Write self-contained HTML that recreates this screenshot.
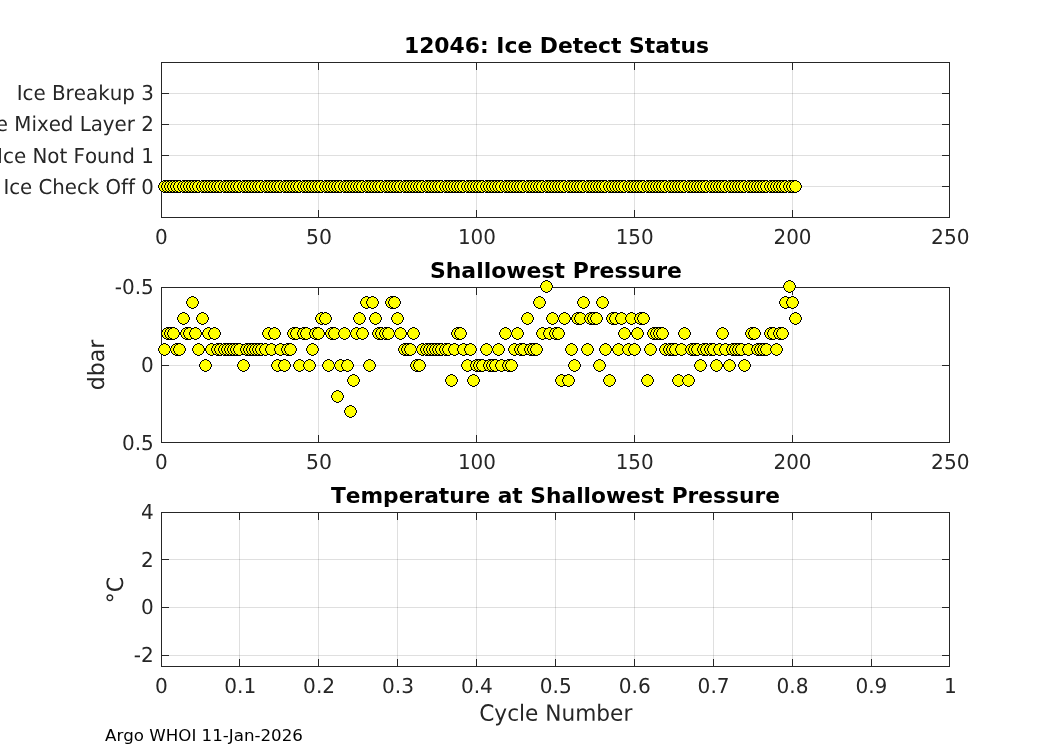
<!DOCTYPE html>
<html><head><meta charset="utf-8"><title>12046: Ice Detect Status</title>
<style>
html,body{margin:0;padding:0;background:#fff;overflow:hidden}
svg{display:block}
text{font-family:"DejaVu Sans","Liberation Sans",sans-serif;font-kerning:none;font-variant-ligatures:none}
</style></head><body>
<svg width="1050" height="750" viewBox="0 0 1050 750">
<rect x="0" y="0" width="1050" height="750" fill="#fff"/>
<g shape-rendering="crispEdges">
<rect x="318" y="62" width="1" height="156" fill="#262626" fill-opacity="0.15"/>
<rect x="476" y="62" width="1" height="156" fill="#262626" fill-opacity="0.15"/>
<rect x="634" y="62" width="1" height="156" fill="#262626" fill-opacity="0.15"/>
<rect x="792" y="62" width="1" height="156" fill="#262626" fill-opacity="0.15"/>
<rect x="161" y="93" width="789" height="1" fill="#262626" fill-opacity="0.15"/>
<rect x="161" y="124" width="789" height="1" fill="#262626" fill-opacity="0.15"/>
<rect x="161" y="155" width="789" height="1" fill="#262626" fill-opacity="0.15"/>
<rect x="161" y="186" width="789" height="1" fill="#262626" fill-opacity="0.15"/>
<rect x="161" y="62" width="789" height="1" fill="#262626"/>
<rect x="161" y="217" width="789" height="1" fill="#262626"/>
<rect x="161" y="62" width="1" height="156" fill="#262626"/>
<rect x="949" y="62" width="1" height="156" fill="#262626"/>
<rect x="161" y="210" width="1" height="8" fill="#262626"/>
<rect x="161" y="62" width="1" height="8" fill="#262626"/>
<rect x="318" y="210" width="1" height="8" fill="#262626"/>
<rect x="318" y="62" width="1" height="8" fill="#262626"/>
<rect x="476" y="210" width="1" height="8" fill="#262626"/>
<rect x="476" y="62" width="1" height="8" fill="#262626"/>
<rect x="634" y="210" width="1" height="8" fill="#262626"/>
<rect x="634" y="62" width="1" height="8" fill="#262626"/>
<rect x="792" y="210" width="1" height="8" fill="#262626"/>
<rect x="792" y="62" width="1" height="8" fill="#262626"/>
<rect x="949" y="210" width="1" height="8" fill="#262626"/>
<rect x="949" y="62" width="1" height="8" fill="#262626"/>
<rect x="161" y="93" width="8" height="1" fill="#262626"/>
<rect x="942" y="93" width="8" height="1" fill="#262626"/>
<rect x="161" y="124" width="8" height="1" fill="#262626"/>
<rect x="942" y="124" width="8" height="1" fill="#262626"/>
<rect x="161" y="155" width="8" height="1" fill="#262626"/>
<rect x="942" y="155" width="8" height="1" fill="#262626"/>
<rect x="161" y="186" width="8" height="1" fill="#262626"/>
<rect x="942" y="186" width="8" height="1" fill="#262626"/>
<rect x="318" y="287" width="1" height="156" fill="#262626" fill-opacity="0.15"/>
<rect x="476" y="287" width="1" height="156" fill="#262626" fill-opacity="0.15"/>
<rect x="634" y="287" width="1" height="156" fill="#262626" fill-opacity="0.15"/>
<rect x="792" y="287" width="1" height="156" fill="#262626" fill-opacity="0.15"/>
<rect x="161" y="365" width="789" height="1" fill="#262626" fill-opacity="0.15"/>
<rect x="161" y="287" width="789" height="1" fill="#262626"/>
<rect x="161" y="442" width="789" height="1" fill="#262626"/>
<rect x="161" y="287" width="1" height="156" fill="#262626"/>
<rect x="949" y="287" width="1" height="156" fill="#262626"/>
<rect x="161" y="435" width="1" height="8" fill="#262626"/>
<rect x="161" y="287" width="1" height="8" fill="#262626"/>
<rect x="318" y="435" width="1" height="8" fill="#262626"/>
<rect x="318" y="287" width="1" height="8" fill="#262626"/>
<rect x="476" y="435" width="1" height="8" fill="#262626"/>
<rect x="476" y="287" width="1" height="8" fill="#262626"/>
<rect x="634" y="435" width="1" height="8" fill="#262626"/>
<rect x="634" y="287" width="1" height="8" fill="#262626"/>
<rect x="792" y="435" width="1" height="8" fill="#262626"/>
<rect x="792" y="287" width="1" height="8" fill="#262626"/>
<rect x="949" y="435" width="1" height="8" fill="#262626"/>
<rect x="949" y="287" width="1" height="8" fill="#262626"/>
<rect x="161" y="287" width="8" height="1" fill="#262626"/>
<rect x="942" y="287" width="8" height="1" fill="#262626"/>
<rect x="161" y="365" width="8" height="1" fill="#262626"/>
<rect x="942" y="365" width="8" height="1" fill="#262626"/>
<rect x="161" y="442" width="8" height="1" fill="#262626"/>
<rect x="942" y="442" width="8" height="1" fill="#262626"/>
<rect x="239" y="512" width="1" height="155" fill="#262626" fill-opacity="0.15"/>
<rect x="318" y="512" width="1" height="155" fill="#262626" fill-opacity="0.15"/>
<rect x="397" y="512" width="1" height="155" fill="#262626" fill-opacity="0.15"/>
<rect x="476" y="512" width="1" height="155" fill="#262626" fill-opacity="0.15"/>
<rect x="555" y="512" width="1" height="155" fill="#262626" fill-opacity="0.15"/>
<rect x="634" y="512" width="1" height="155" fill="#262626" fill-opacity="0.15"/>
<rect x="713" y="512" width="1" height="155" fill="#262626" fill-opacity="0.15"/>
<rect x="792" y="512" width="1" height="155" fill="#262626" fill-opacity="0.15"/>
<rect x="871" y="512" width="1" height="155" fill="#262626" fill-opacity="0.15"/>
<rect x="161" y="559" width="789" height="1" fill="#262626" fill-opacity="0.15"/>
<rect x="161" y="607" width="789" height="1" fill="#262626" fill-opacity="0.15"/>
<rect x="161" y="655" width="789" height="1" fill="#262626" fill-opacity="0.15"/>
<rect x="161" y="512" width="789" height="1" fill="#262626"/>
<rect x="161" y="666" width="789" height="1" fill="#262626"/>
<rect x="161" y="512" width="1" height="155" fill="#262626"/>
<rect x="949" y="512" width="1" height="155" fill="#262626"/>
<rect x="161" y="659" width="1" height="8" fill="#262626"/>
<rect x="161" y="512" width="1" height="8" fill="#262626"/>
<rect x="239" y="659" width="1" height="8" fill="#262626"/>
<rect x="239" y="512" width="1" height="8" fill="#262626"/>
<rect x="318" y="659" width="1" height="8" fill="#262626"/>
<rect x="318" y="512" width="1" height="8" fill="#262626"/>
<rect x="397" y="659" width="1" height="8" fill="#262626"/>
<rect x="397" y="512" width="1" height="8" fill="#262626"/>
<rect x="476" y="659" width="1" height="8" fill="#262626"/>
<rect x="476" y="512" width="1" height="8" fill="#262626"/>
<rect x="555" y="659" width="1" height="8" fill="#262626"/>
<rect x="555" y="512" width="1" height="8" fill="#262626"/>
<rect x="634" y="659" width="1" height="8" fill="#262626"/>
<rect x="634" y="512" width="1" height="8" fill="#262626"/>
<rect x="713" y="659" width="1" height="8" fill="#262626"/>
<rect x="713" y="512" width="1" height="8" fill="#262626"/>
<rect x="792" y="659" width="1" height="8" fill="#262626"/>
<rect x="792" y="512" width="1" height="8" fill="#262626"/>
<rect x="871" y="659" width="1" height="8" fill="#262626"/>
<rect x="871" y="512" width="1" height="8" fill="#262626"/>
<rect x="949" y="659" width="1" height="8" fill="#262626"/>
<rect x="949" y="512" width="1" height="8" fill="#262626"/>
<rect x="161" y="512" width="8" height="1" fill="#262626"/>
<rect x="942" y="512" width="8" height="1" fill="#262626"/>
<rect x="161" y="559" width="8" height="1" fill="#262626"/>
<rect x="942" y="559" width="8" height="1" fill="#262626"/>
<rect x="161" y="607" width="8" height="1" fill="#262626"/>
<rect x="942" y="607" width="8" height="1" fill="#262626"/>
<rect x="161" y="655" width="8" height="1" fill="#262626"/>
<rect x="942" y="655" width="8" height="1" fill="#262626"/>
</g>
<g shape-rendering="crispEdges">
<g transform="translate(158,180)"><path d="M5,0H8V1H10V2H11V3H12V5H13V8H12V10H11V11H10V12H8V13H5V12H3V11H2V10H1V8H0V5H1V3H2V2H3V1H5Z" fill="#000"/><path d="M5,1H8V2H10V3H11V5H12V8H11V10H10V11H8V12H5V11H3V10H2V8H1V5H2V3H3V2H5Z" fill="#ff0"/></g>
<g transform="translate(161,180)"><path d="M5,0H8V1H10V2H11V3H12V5H13V8H12V10H11V11H10V12H8V13H5V12H3V11H2V10H1V8H0V5H1V3H2V2H3V1H5Z" fill="#000"/><path d="M5,1H8V2H10V3H11V5H12V8H11V10H10V11H8V12H5V11H3V10H2V8H1V5H2V3H3V2H5Z" fill="#ff0"/></g>
<g transform="translate(164,180)"><path d="M5,0H8V1H10V2H11V3H12V5H13V8H12V10H11V11H10V12H8V13H5V12H3V11H2V10H1V8H0V5H1V3H2V2H3V1H5Z" fill="#000"/><path d="M5,1H8V2H10V3H11V5H12V8H11V10H10V11H8V12H5V11H3V10H2V8H1V5H2V3H3V2H5Z" fill="#ff0"/></g>
<g transform="translate(167,180)"><path d="M5,0H8V1H10V2H11V3H12V5H13V8H12V10H11V11H10V12H8V13H5V12H3V11H2V10H1V8H0V5H1V3H2V2H3V1H5Z" fill="#000"/><path d="M5,1H8V2H10V3H11V5H12V8H11V10H10V11H8V12H5V11H3V10H2V8H1V5H2V3H3V2H5Z" fill="#ff0"/></g>
<g transform="translate(170,180)"><path d="M5,0H8V1H10V2H11V3H12V5H13V8H12V10H11V11H10V12H8V13H5V12H3V11H2V10H1V8H0V5H1V3H2V2H3V1H5Z" fill="#000"/><path d="M5,1H8V2H10V3H11V5H12V8H11V10H10V11H8V12H5V11H3V10H2V8H1V5H2V3H3V2H5Z" fill="#ff0"/></g>
<g transform="translate(173,180)"><path d="M5,0H8V1H10V2H11V3H12V5H13V8H12V10H11V11H10V12H8V13H5V12H3V11H2V10H1V8H0V5H1V3H2V2H3V1H5Z" fill="#000"/><path d="M5,1H8V2H10V3H11V5H12V8H11V10H10V11H8V12H5V11H3V10H2V8H1V5H2V3H3V2H5Z" fill="#ff0"/></g>
<g transform="translate(177,180)"><path d="M5,0H8V1H10V2H11V3H12V5H13V8H12V10H11V11H10V12H8V13H5V12H3V11H2V10H1V8H0V5H1V3H2V2H3V1H5Z" fill="#000"/><path d="M5,1H8V2H10V3H11V5H12V8H11V10H10V11H8V12H5V11H3V10H2V8H1V5H2V3H3V2H5Z" fill="#ff0"/></g>
<g transform="translate(180,180)"><path d="M5,0H8V1H10V2H11V3H12V5H13V8H12V10H11V11H10V12H8V13H5V12H3V11H2V10H1V8H0V5H1V3H2V2H3V1H5Z" fill="#000"/><path d="M5,1H8V2H10V3H11V5H12V8H11V10H10V11H8V12H5V11H3V10H2V8H1V5H2V3H3V2H5Z" fill="#ff0"/></g>
<g transform="translate(183,180)"><path d="M5,0H8V1H10V2H11V3H12V5H13V8H12V10H11V11H10V12H8V13H5V12H3V11H2V10H1V8H0V5H1V3H2V2H3V1H5Z" fill="#000"/><path d="M5,1H8V2H10V3H11V5H12V8H11V10H10V11H8V12H5V11H3V10H2V8H1V5H2V3H3V2H5Z" fill="#ff0"/></g>
<g transform="translate(186,180)"><path d="M5,0H8V1H10V2H11V3H12V5H13V8H12V10H11V11H10V12H8V13H5V12H3V11H2V10H1V8H0V5H1V3H2V2H3V1H5Z" fill="#000"/><path d="M5,1H8V2H10V3H11V5H12V8H11V10H10V11H8V12H5V11H3V10H2V8H1V5H2V3H3V2H5Z" fill="#ff0"/></g>
<g transform="translate(189,180)"><path d="M5,0H8V1H10V2H11V3H12V5H13V8H12V10H11V11H10V12H8V13H5V12H3V11H2V10H1V8H0V5H1V3H2V2H3V1H5Z" fill="#000"/><path d="M5,1H8V2H10V3H11V5H12V8H11V10H10V11H8V12H5V11H3V10H2V8H1V5H2V3H3V2H5Z" fill="#ff0"/></g>
<g transform="translate(192,180)"><path d="M5,0H8V1H10V2H11V3H12V5H13V8H12V10H11V11H10V12H8V13H5V12H3V11H2V10H1V8H0V5H1V3H2V2H3V1H5Z" fill="#000"/><path d="M5,1H8V2H10V3H11V5H12V8H11V10H10V11H8V12H5V11H3V10H2V8H1V5H2V3H3V2H5Z" fill="#ff0"/></g>
<g transform="translate(196,180)"><path d="M5,0H8V1H10V2H11V3H12V5H13V8H12V10H11V11H10V12H8V13H5V12H3V11H2V10H1V8H0V5H1V3H2V2H3V1H5Z" fill="#000"/><path d="M5,1H8V2H10V3H11V5H12V8H11V10H10V11H8V12H5V11H3V10H2V8H1V5H2V3H3V2H5Z" fill="#ff0"/></g>
<g transform="translate(199,180)"><path d="M5,0H8V1H10V2H11V3H12V5H13V8H12V10H11V11H10V12H8V13H5V12H3V11H2V10H1V8H0V5H1V3H2V2H3V1H5Z" fill="#000"/><path d="M5,1H8V2H10V3H11V5H12V8H11V10H10V11H8V12H5V11H3V10H2V8H1V5H2V3H3V2H5Z" fill="#ff0"/></g>
<g transform="translate(202,180)"><path d="M5,0H8V1H10V2H11V3H12V5H13V8H12V10H11V11H10V12H8V13H5V12H3V11H2V10H1V8H0V5H1V3H2V2H3V1H5Z" fill="#000"/><path d="M5,1H8V2H10V3H11V5H12V8H11V10H10V11H8V12H5V11H3V10H2V8H1V5H2V3H3V2H5Z" fill="#ff0"/></g>
<g transform="translate(205,180)"><path d="M5,0H8V1H10V2H11V3H12V5H13V8H12V10H11V11H10V12H8V13H5V12H3V11H2V10H1V8H0V5H1V3H2V2H3V1H5Z" fill="#000"/><path d="M5,1H8V2H10V3H11V5H12V8H11V10H10V11H8V12H5V11H3V10H2V8H1V5H2V3H3V2H5Z" fill="#ff0"/></g>
<g transform="translate(208,180)"><path d="M5,0H8V1H10V2H11V3H12V5H13V8H12V10H11V11H10V12H8V13H5V12H3V11H2V10H1V8H0V5H1V3H2V2H3V1H5Z" fill="#000"/><path d="M5,1H8V2H10V3H11V5H12V8H11V10H10V11H8V12H5V11H3V10H2V8H1V5H2V3H3V2H5Z" fill="#ff0"/></g>
<g transform="translate(211,180)"><path d="M5,0H8V1H10V2H11V3H12V5H13V8H12V10H11V11H10V12H8V13H5V12H3V11H2V10H1V8H0V5H1V3H2V2H3V1H5Z" fill="#000"/><path d="M5,1H8V2H10V3H11V5H12V8H11V10H10V11H8V12H5V11H3V10H2V8H1V5H2V3H3V2H5Z" fill="#ff0"/></g>
<g transform="translate(214,180)"><path d="M5,0H8V1H10V2H11V3H12V5H13V8H12V10H11V11H10V12H8V13H5V12H3V11H2V10H1V8H0V5H1V3H2V2H3V1H5Z" fill="#000"/><path d="M5,1H8V2H10V3H11V5H12V8H11V10H10V11H8V12H5V11H3V10H2V8H1V5H2V3H3V2H5Z" fill="#ff0"/></g>
<g transform="translate(218,180)"><path d="M5,0H8V1H10V2H11V3H12V5H13V8H12V10H11V11H10V12H8V13H5V12H3V11H2V10H1V8H0V5H1V3H2V2H3V1H5Z" fill="#000"/><path d="M5,1H8V2H10V3H11V5H12V8H11V10H10V11H8V12H5V11H3V10H2V8H1V5H2V3H3V2H5Z" fill="#ff0"/></g>
<g transform="translate(221,180)"><path d="M5,0H8V1H10V2H11V3H12V5H13V8H12V10H11V11H10V12H8V13H5V12H3V11H2V10H1V8H0V5H1V3H2V2H3V1H5Z" fill="#000"/><path d="M5,1H8V2H10V3H11V5H12V8H11V10H10V11H8V12H5V11H3V10H2V8H1V5H2V3H3V2H5Z" fill="#ff0"/></g>
<g transform="translate(224,180)"><path d="M5,0H8V1H10V2H11V3H12V5H13V8H12V10H11V11H10V12H8V13H5V12H3V11H2V10H1V8H0V5H1V3H2V2H3V1H5Z" fill="#000"/><path d="M5,1H8V2H10V3H11V5H12V8H11V10H10V11H8V12H5V11H3V10H2V8H1V5H2V3H3V2H5Z" fill="#ff0"/></g>
<g transform="translate(227,180)"><path d="M5,0H8V1H10V2H11V3H12V5H13V8H12V10H11V11H10V12H8V13H5V12H3V11H2V10H1V8H0V5H1V3H2V2H3V1H5Z" fill="#000"/><path d="M5,1H8V2H10V3H11V5H12V8H11V10H10V11H8V12H5V11H3V10H2V8H1V5H2V3H3V2H5Z" fill="#ff0"/></g>
<g transform="translate(230,180)"><path d="M5,0H8V1H10V2H11V3H12V5H13V8H12V10H11V11H10V12H8V13H5V12H3V11H2V10H1V8H0V5H1V3H2V2H3V1H5Z" fill="#000"/><path d="M5,1H8V2H10V3H11V5H12V8H11V10H10V11H8V12H5V11H3V10H2V8H1V5H2V3H3V2H5Z" fill="#ff0"/></g>
<g transform="translate(233,180)"><path d="M5,0H8V1H10V2H11V3H12V5H13V8H12V10H11V11H10V12H8V13H5V12H3V11H2V10H1V8H0V5H1V3H2V2H3V1H5Z" fill="#000"/><path d="M5,1H8V2H10V3H11V5H12V8H11V10H10V11H8V12H5V11H3V10H2V8H1V5H2V3H3V2H5Z" fill="#ff0"/></g>
<g transform="translate(237,180)"><path d="M5,0H8V1H10V2H11V3H12V5H13V8H12V10H11V11H10V12H8V13H5V12H3V11H2V10H1V8H0V5H1V3H2V2H3V1H5Z" fill="#000"/><path d="M5,1H8V2H10V3H11V5H12V8H11V10H10V11H8V12H5V11H3V10H2V8H1V5H2V3H3V2H5Z" fill="#ff0"/></g>
<g transform="translate(240,180)"><path d="M5,0H8V1H10V2H11V3H12V5H13V8H12V10H11V11H10V12H8V13H5V12H3V11H2V10H1V8H0V5H1V3H2V2H3V1H5Z" fill="#000"/><path d="M5,1H8V2H10V3H11V5H12V8H11V10H10V11H8V12H5V11H3V10H2V8H1V5H2V3H3V2H5Z" fill="#ff0"/></g>
<g transform="translate(243,180)"><path d="M5,0H8V1H10V2H11V3H12V5H13V8H12V10H11V11H10V12H8V13H5V12H3V11H2V10H1V8H0V5H1V3H2V2H3V1H5Z" fill="#000"/><path d="M5,1H8V2H10V3H11V5H12V8H11V10H10V11H8V12H5V11H3V10H2V8H1V5H2V3H3V2H5Z" fill="#ff0"/></g>
<g transform="translate(246,180)"><path d="M5,0H8V1H10V2H11V3H12V5H13V8H12V10H11V11H10V12H8V13H5V12H3V11H2V10H1V8H0V5H1V3H2V2H3V1H5Z" fill="#000"/><path d="M5,1H8V2H10V3H11V5H12V8H11V10H10V11H8V12H5V11H3V10H2V8H1V5H2V3H3V2H5Z" fill="#ff0"/></g>
<g transform="translate(249,180)"><path d="M5,0H8V1H10V2H11V3H12V5H13V8H12V10H11V11H10V12H8V13H5V12H3V11H2V10H1V8H0V5H1V3H2V2H3V1H5Z" fill="#000"/><path d="M5,1H8V2H10V3H11V5H12V8H11V10H10V11H8V12H5V11H3V10H2V8H1V5H2V3H3V2H5Z" fill="#ff0"/></g>
<g transform="translate(252,180)"><path d="M5,0H8V1H10V2H11V3H12V5H13V8H12V10H11V11H10V12H8V13H5V12H3V11H2V10H1V8H0V5H1V3H2V2H3V1H5Z" fill="#000"/><path d="M5,1H8V2H10V3H11V5H12V8H11V10H10V11H8V12H5V11H3V10H2V8H1V5H2V3H3V2H5Z" fill="#ff0"/></g>
<g transform="translate(255,180)"><path d="M5,0H8V1H10V2H11V3H12V5H13V8H12V10H11V11H10V12H8V13H5V12H3V11H2V10H1V8H0V5H1V3H2V2H3V1H5Z" fill="#000"/><path d="M5,1H8V2H10V3H11V5H12V8H11V10H10V11H8V12H5V11H3V10H2V8H1V5H2V3H3V2H5Z" fill="#ff0"/></g>
<g transform="translate(259,180)"><path d="M5,0H8V1H10V2H11V3H12V5H13V8H12V10H11V11H10V12H8V13H5V12H3V11H2V10H1V8H0V5H1V3H2V2H3V1H5Z" fill="#000"/><path d="M5,1H8V2H10V3H11V5H12V8H11V10H10V11H8V12H5V11H3V10H2V8H1V5H2V3H3V2H5Z" fill="#ff0"/></g>
<g transform="translate(262,180)"><path d="M5,0H8V1H10V2H11V3H12V5H13V8H12V10H11V11H10V12H8V13H5V12H3V11H2V10H1V8H0V5H1V3H2V2H3V1H5Z" fill="#000"/><path d="M5,1H8V2H10V3H11V5H12V8H11V10H10V11H8V12H5V11H3V10H2V8H1V5H2V3H3V2H5Z" fill="#ff0"/></g>
<g transform="translate(265,180)"><path d="M5,0H8V1H10V2H11V3H12V5H13V8H12V10H11V11H10V12H8V13H5V12H3V11H2V10H1V8H0V5H1V3H2V2H3V1H5Z" fill="#000"/><path d="M5,1H8V2H10V3H11V5H12V8H11V10H10V11H8V12H5V11H3V10H2V8H1V5H2V3H3V2H5Z" fill="#ff0"/></g>
<g transform="translate(268,180)"><path d="M5,0H8V1H10V2H11V3H12V5H13V8H12V10H11V11H10V12H8V13H5V12H3V11H2V10H1V8H0V5H1V3H2V2H3V1H5Z" fill="#000"/><path d="M5,1H8V2H10V3H11V5H12V8H11V10H10V11H8V12H5V11H3V10H2V8H1V5H2V3H3V2H5Z" fill="#ff0"/></g>
<g transform="translate(271,180)"><path d="M5,0H8V1H10V2H11V3H12V5H13V8H12V10H11V11H10V12H8V13H5V12H3V11H2V10H1V8H0V5H1V3H2V2H3V1H5Z" fill="#000"/><path d="M5,1H8V2H10V3H11V5H12V8H11V10H10V11H8V12H5V11H3V10H2V8H1V5H2V3H3V2H5Z" fill="#ff0"/></g>
<g transform="translate(274,180)"><path d="M5,0H8V1H10V2H11V3H12V5H13V8H12V10H11V11H10V12H8V13H5V12H3V11H2V10H1V8H0V5H1V3H2V2H3V1H5Z" fill="#000"/><path d="M5,1H8V2H10V3H11V5H12V8H11V10H10V11H8V12H5V11H3V10H2V8H1V5H2V3H3V2H5Z" fill="#ff0"/></g>
<g transform="translate(278,180)"><path d="M5,0H8V1H10V2H11V3H12V5H13V8H12V10H11V11H10V12H8V13H5V12H3V11H2V10H1V8H0V5H1V3H2V2H3V1H5Z" fill="#000"/><path d="M5,1H8V2H10V3H11V5H12V8H11V10H10V11H8V12H5V11H3V10H2V8H1V5H2V3H3V2H5Z" fill="#ff0"/></g>
<g transform="translate(281,180)"><path d="M5,0H8V1H10V2H11V3H12V5H13V8H12V10H11V11H10V12H8V13H5V12H3V11H2V10H1V8H0V5H1V3H2V2H3V1H5Z" fill="#000"/><path d="M5,1H8V2H10V3H11V5H12V8H11V10H10V11H8V12H5V11H3V10H2V8H1V5H2V3H3V2H5Z" fill="#ff0"/></g>
<g transform="translate(284,180)"><path d="M5,0H8V1H10V2H11V3H12V5H13V8H12V10H11V11H10V12H8V13H5V12H3V11H2V10H1V8H0V5H1V3H2V2H3V1H5Z" fill="#000"/><path d="M5,1H8V2H10V3H11V5H12V8H11V10H10V11H8V12H5V11H3V10H2V8H1V5H2V3H3V2H5Z" fill="#ff0"/></g>
<g transform="translate(287,180)"><path d="M5,0H8V1H10V2H11V3H12V5H13V8H12V10H11V11H10V12H8V13H5V12H3V11H2V10H1V8H0V5H1V3H2V2H3V1H5Z" fill="#000"/><path d="M5,1H8V2H10V3H11V5H12V8H11V10H10V11H8V12H5V11H3V10H2V8H1V5H2V3H3V2H5Z" fill="#ff0"/></g>
<g transform="translate(290,180)"><path d="M5,0H8V1H10V2H11V3H12V5H13V8H12V10H11V11H10V12H8V13H5V12H3V11H2V10H1V8H0V5H1V3H2V2H3V1H5Z" fill="#000"/><path d="M5,1H8V2H10V3H11V5H12V8H11V10H10V11H8V12H5V11H3V10H2V8H1V5H2V3H3V2H5Z" fill="#ff0"/></g>
<g transform="translate(293,180)"><path d="M5,0H8V1H10V2H11V3H12V5H13V8H12V10H11V11H10V12H8V13H5V12H3V11H2V10H1V8H0V5H1V3H2V2H3V1H5Z" fill="#000"/><path d="M5,1H8V2H10V3H11V5H12V8H11V10H10V11H8V12H5V11H3V10H2V8H1V5H2V3H3V2H5Z" fill="#ff0"/></g>
<g transform="translate(297,180)"><path d="M5,0H8V1H10V2H11V3H12V5H13V8H12V10H11V11H10V12H8V13H5V12H3V11H2V10H1V8H0V5H1V3H2V2H3V1H5Z" fill="#000"/><path d="M5,1H8V2H10V3H11V5H12V8H11V10H10V11H8V12H5V11H3V10H2V8H1V5H2V3H3V2H5Z" fill="#ff0"/></g>
<g transform="translate(300,180)"><path d="M5,0H8V1H10V2H11V3H12V5H13V8H12V10H11V11H10V12H8V13H5V12H3V11H2V10H1V8H0V5H1V3H2V2H3V1H5Z" fill="#000"/><path d="M5,1H8V2H10V3H11V5H12V8H11V10H10V11H8V12H5V11H3V10H2V8H1V5H2V3H3V2H5Z" fill="#ff0"/></g>
<g transform="translate(303,180)"><path d="M5,0H8V1H10V2H11V3H12V5H13V8H12V10H11V11H10V12H8V13H5V12H3V11H2V10H1V8H0V5H1V3H2V2H3V1H5Z" fill="#000"/><path d="M5,1H8V2H10V3H11V5H12V8H11V10H10V11H8V12H5V11H3V10H2V8H1V5H2V3H3V2H5Z" fill="#ff0"/></g>
<g transform="translate(306,180)"><path d="M5,0H8V1H10V2H11V3H12V5H13V8H12V10H11V11H10V12H8V13H5V12H3V11H2V10H1V8H0V5H1V3H2V2H3V1H5Z" fill="#000"/><path d="M5,1H8V2H10V3H11V5H12V8H11V10H10V11H8V12H5V11H3V10H2V8H1V5H2V3H3V2H5Z" fill="#ff0"/></g>
<g transform="translate(309,180)"><path d="M5,0H8V1H10V2H11V3H12V5H13V8H12V10H11V11H10V12H8V13H5V12H3V11H2V10H1V8H0V5H1V3H2V2H3V1H5Z" fill="#000"/><path d="M5,1H8V2H10V3H11V5H12V8H11V10H10V11H8V12H5V11H3V10H2V8H1V5H2V3H3V2H5Z" fill="#ff0"/></g>
<g transform="translate(312,180)"><path d="M5,0H8V1H10V2H11V3H12V5H13V8H12V10H11V11H10V12H8V13H5V12H3V11H2V10H1V8H0V5H1V3H2V2H3V1H5Z" fill="#000"/><path d="M5,1H8V2H10V3H11V5H12V8H11V10H10V11H8V12H5V11H3V10H2V8H1V5H2V3H3V2H5Z" fill="#ff0"/></g>
<g transform="translate(315,180)"><path d="M5,0H8V1H10V2H11V3H12V5H13V8H12V10H11V11H10V12H8V13H5V12H3V11H2V10H1V8H0V5H1V3H2V2H3V1H5Z" fill="#000"/><path d="M5,1H8V2H10V3H11V5H12V8H11V10H10V11H8V12H5V11H3V10H2V8H1V5H2V3H3V2H5Z" fill="#ff0"/></g>
<g transform="translate(319,180)"><path d="M5,0H8V1H10V2H11V3H12V5H13V8H12V10H11V11H10V12H8V13H5V12H3V11H2V10H1V8H0V5H1V3H2V2H3V1H5Z" fill="#000"/><path d="M5,1H8V2H10V3H11V5H12V8H11V10H10V11H8V12H5V11H3V10H2V8H1V5H2V3H3V2H5Z" fill="#ff0"/></g>
<g transform="translate(322,180)"><path d="M5,0H8V1H10V2H11V3H12V5H13V8H12V10H11V11H10V12H8V13H5V12H3V11H2V10H1V8H0V5H1V3H2V2H3V1H5Z" fill="#000"/><path d="M5,1H8V2H10V3H11V5H12V8H11V10H10V11H8V12H5V11H3V10H2V8H1V5H2V3H3V2H5Z" fill="#ff0"/></g>
<g transform="translate(325,180)"><path d="M5,0H8V1H10V2H11V3H12V5H13V8H12V10H11V11H10V12H8V13H5V12H3V11H2V10H1V8H0V5H1V3H2V2H3V1H5Z" fill="#000"/><path d="M5,1H8V2H10V3H11V5H12V8H11V10H10V11H8V12H5V11H3V10H2V8H1V5H2V3H3V2H5Z" fill="#ff0"/></g>
<g transform="translate(328,180)"><path d="M5,0H8V1H10V2H11V3H12V5H13V8H12V10H11V11H10V12H8V13H5V12H3V11H2V10H1V8H0V5H1V3H2V2H3V1H5Z" fill="#000"/><path d="M5,1H8V2H10V3H11V5H12V8H11V10H10V11H8V12H5V11H3V10H2V8H1V5H2V3H3V2H5Z" fill="#ff0"/></g>
<g transform="translate(331,180)"><path d="M5,0H8V1H10V2H11V3H12V5H13V8H12V10H11V11H10V12H8V13H5V12H3V11H2V10H1V8H0V5H1V3H2V2H3V1H5Z" fill="#000"/><path d="M5,1H8V2H10V3H11V5H12V8H11V10H10V11H8V12H5V11H3V10H2V8H1V5H2V3H3V2H5Z" fill="#ff0"/></g>
<g transform="translate(334,180)"><path d="M5,0H8V1H10V2H11V3H12V5H13V8H12V10H11V11H10V12H8V13H5V12H3V11H2V10H1V8H0V5H1V3H2V2H3V1H5Z" fill="#000"/><path d="M5,1H8V2H10V3H11V5H12V8H11V10H10V11H8V12H5V11H3V10H2V8H1V5H2V3H3V2H5Z" fill="#ff0"/></g>
<g transform="translate(338,180)"><path d="M5,0H8V1H10V2H11V3H12V5H13V8H12V10H11V11H10V12H8V13H5V12H3V11H2V10H1V8H0V5H1V3H2V2H3V1H5Z" fill="#000"/><path d="M5,1H8V2H10V3H11V5H12V8H11V10H10V11H8V12H5V11H3V10H2V8H1V5H2V3H3V2H5Z" fill="#ff0"/></g>
<g transform="translate(341,180)"><path d="M5,0H8V1H10V2H11V3H12V5H13V8H12V10H11V11H10V12H8V13H5V12H3V11H2V10H1V8H0V5H1V3H2V2H3V1H5Z" fill="#000"/><path d="M5,1H8V2H10V3H11V5H12V8H11V10H10V11H8V12H5V11H3V10H2V8H1V5H2V3H3V2H5Z" fill="#ff0"/></g>
<g transform="translate(344,180)"><path d="M5,0H8V1H10V2H11V3H12V5H13V8H12V10H11V11H10V12H8V13H5V12H3V11H2V10H1V8H0V5H1V3H2V2H3V1H5Z" fill="#000"/><path d="M5,1H8V2H10V3H11V5H12V8H11V10H10V11H8V12H5V11H3V10H2V8H1V5H2V3H3V2H5Z" fill="#ff0"/></g>
<g transform="translate(347,180)"><path d="M5,0H8V1H10V2H11V3H12V5H13V8H12V10H11V11H10V12H8V13H5V12H3V11H2V10H1V8H0V5H1V3H2V2H3V1H5Z" fill="#000"/><path d="M5,1H8V2H10V3H11V5H12V8H11V10H10V11H8V12H5V11H3V10H2V8H1V5H2V3H3V2H5Z" fill="#ff0"/></g>
<g transform="translate(350,180)"><path d="M5,0H8V1H10V2H11V3H12V5H13V8H12V10H11V11H10V12H8V13H5V12H3V11H2V10H1V8H0V5H1V3H2V2H3V1H5Z" fill="#000"/><path d="M5,1H8V2H10V3H11V5H12V8H11V10H10V11H8V12H5V11H3V10H2V8H1V5H2V3H3V2H5Z" fill="#ff0"/></g>
<g transform="translate(353,180)"><path d="M5,0H8V1H10V2H11V3H12V5H13V8H12V10H11V11H10V12H8V13H5V12H3V11H2V10H1V8H0V5H1V3H2V2H3V1H5Z" fill="#000"/><path d="M5,1H8V2H10V3H11V5H12V8H11V10H10V11H8V12H5V11H3V10H2V8H1V5H2V3H3V2H5Z" fill="#ff0"/></g>
<g transform="translate(356,180)"><path d="M5,0H8V1H10V2H11V3H12V5H13V8H12V10H11V11H10V12H8V13H5V12H3V11H2V10H1V8H0V5H1V3H2V2H3V1H5Z" fill="#000"/><path d="M5,1H8V2H10V3H11V5H12V8H11V10H10V11H8V12H5V11H3V10H2V8H1V5H2V3H3V2H5Z" fill="#ff0"/></g>
<g transform="translate(360,180)"><path d="M5,0H8V1H10V2H11V3H12V5H13V8H12V10H11V11H10V12H8V13H5V12H3V11H2V10H1V8H0V5H1V3H2V2H3V1H5Z" fill="#000"/><path d="M5,1H8V2H10V3H11V5H12V8H11V10H10V11H8V12H5V11H3V10H2V8H1V5H2V3H3V2H5Z" fill="#ff0"/></g>
<g transform="translate(363,180)"><path d="M5,0H8V1H10V2H11V3H12V5H13V8H12V10H11V11H10V12H8V13H5V12H3V11H2V10H1V8H0V5H1V3H2V2H3V1H5Z" fill="#000"/><path d="M5,1H8V2H10V3H11V5H12V8H11V10H10V11H8V12H5V11H3V10H2V8H1V5H2V3H3V2H5Z" fill="#ff0"/></g>
<g transform="translate(366,180)"><path d="M5,0H8V1H10V2H11V3H12V5H13V8H12V10H11V11H10V12H8V13H5V12H3V11H2V10H1V8H0V5H1V3H2V2H3V1H5Z" fill="#000"/><path d="M5,1H8V2H10V3H11V5H12V8H11V10H10V11H8V12H5V11H3V10H2V8H1V5H2V3H3V2H5Z" fill="#ff0"/></g>
<g transform="translate(369,180)"><path d="M5,0H8V1H10V2H11V3H12V5H13V8H12V10H11V11H10V12H8V13H5V12H3V11H2V10H1V8H0V5H1V3H2V2H3V1H5Z" fill="#000"/><path d="M5,1H8V2H10V3H11V5H12V8H11V10H10V11H8V12H5V11H3V10H2V8H1V5H2V3H3V2H5Z" fill="#ff0"/></g>
<g transform="translate(372,180)"><path d="M5,0H8V1H10V2H11V3H12V5H13V8H12V10H11V11H10V12H8V13H5V12H3V11H2V10H1V8H0V5H1V3H2V2H3V1H5Z" fill="#000"/><path d="M5,1H8V2H10V3H11V5H12V8H11V10H10V11H8V12H5V11H3V10H2V8H1V5H2V3H3V2H5Z" fill="#ff0"/></g>
<g transform="translate(375,180)"><path d="M5,0H8V1H10V2H11V3H12V5H13V8H12V10H11V11H10V12H8V13H5V12H3V11H2V10H1V8H0V5H1V3H2V2H3V1H5Z" fill="#000"/><path d="M5,1H8V2H10V3H11V5H12V8H11V10H10V11H8V12H5V11H3V10H2V8H1V5H2V3H3V2H5Z" fill="#ff0"/></g>
<g transform="translate(379,180)"><path d="M5,0H8V1H10V2H11V3H12V5H13V8H12V10H11V11H10V12H8V13H5V12H3V11H2V10H1V8H0V5H1V3H2V2H3V1H5Z" fill="#000"/><path d="M5,1H8V2H10V3H11V5H12V8H11V10H10V11H8V12H5V11H3V10H2V8H1V5H2V3H3V2H5Z" fill="#ff0"/></g>
<g transform="translate(382,180)"><path d="M5,0H8V1H10V2H11V3H12V5H13V8H12V10H11V11H10V12H8V13H5V12H3V11H2V10H1V8H0V5H1V3H2V2H3V1H5Z" fill="#000"/><path d="M5,1H8V2H10V3H11V5H12V8H11V10H10V11H8V12H5V11H3V10H2V8H1V5H2V3H3V2H5Z" fill="#ff0"/></g>
<g transform="translate(385,180)"><path d="M5,0H8V1H10V2H11V3H12V5H13V8H12V10H11V11H10V12H8V13H5V12H3V11H2V10H1V8H0V5H1V3H2V2H3V1H5Z" fill="#000"/><path d="M5,1H8V2H10V3H11V5H12V8H11V10H10V11H8V12H5V11H3V10H2V8H1V5H2V3H3V2H5Z" fill="#ff0"/></g>
<g transform="translate(388,180)"><path d="M5,0H8V1H10V2H11V3H12V5H13V8H12V10H11V11H10V12H8V13H5V12H3V11H2V10H1V8H0V5H1V3H2V2H3V1H5Z" fill="#000"/><path d="M5,1H8V2H10V3H11V5H12V8H11V10H10V11H8V12H5V11H3V10H2V8H1V5H2V3H3V2H5Z" fill="#ff0"/></g>
<g transform="translate(391,180)"><path d="M5,0H8V1H10V2H11V3H12V5H13V8H12V10H11V11H10V12H8V13H5V12H3V11H2V10H1V8H0V5H1V3H2V2H3V1H5Z" fill="#000"/><path d="M5,1H8V2H10V3H11V5H12V8H11V10H10V11H8V12H5V11H3V10H2V8H1V5H2V3H3V2H5Z" fill="#ff0"/></g>
<g transform="translate(394,180)"><path d="M5,0H8V1H10V2H11V3H12V5H13V8H12V10H11V11H10V12H8V13H5V12H3V11H2V10H1V8H0V5H1V3H2V2H3V1H5Z" fill="#000"/><path d="M5,1H8V2H10V3H11V5H12V8H11V10H10V11H8V12H5V11H3V10H2V8H1V5H2V3H3V2H5Z" fill="#ff0"/></g>
<g transform="translate(398,180)"><path d="M5,0H8V1H10V2H11V3H12V5H13V8H12V10H11V11H10V12H8V13H5V12H3V11H2V10H1V8H0V5H1V3H2V2H3V1H5Z" fill="#000"/><path d="M5,1H8V2H10V3H11V5H12V8H11V10H10V11H8V12H5V11H3V10H2V8H1V5H2V3H3V2H5Z" fill="#ff0"/></g>
<g transform="translate(401,180)"><path d="M5,0H8V1H10V2H11V3H12V5H13V8H12V10H11V11H10V12H8V13H5V12H3V11H2V10H1V8H0V5H1V3H2V2H3V1H5Z" fill="#000"/><path d="M5,1H8V2H10V3H11V5H12V8H11V10H10V11H8V12H5V11H3V10H2V8H1V5H2V3H3V2H5Z" fill="#ff0"/></g>
<g transform="translate(404,180)"><path d="M5,0H8V1H10V2H11V3H12V5H13V8H12V10H11V11H10V12H8V13H5V12H3V11H2V10H1V8H0V5H1V3H2V2H3V1H5Z" fill="#000"/><path d="M5,1H8V2H10V3H11V5H12V8H11V10H10V11H8V12H5V11H3V10H2V8H1V5H2V3H3V2H5Z" fill="#ff0"/></g>
<g transform="translate(407,180)"><path d="M5,0H8V1H10V2H11V3H12V5H13V8H12V10H11V11H10V12H8V13H5V12H3V11H2V10H1V8H0V5H1V3H2V2H3V1H5Z" fill="#000"/><path d="M5,1H8V2H10V3H11V5H12V8H11V10H10V11H8V12H5V11H3V10H2V8H1V5H2V3H3V2H5Z" fill="#ff0"/></g>
<g transform="translate(410,180)"><path d="M5,0H8V1H10V2H11V3H12V5H13V8H12V10H11V11H10V12H8V13H5V12H3V11H2V10H1V8H0V5H1V3H2V2H3V1H5Z" fill="#000"/><path d="M5,1H8V2H10V3H11V5H12V8H11V10H10V11H8V12H5V11H3V10H2V8H1V5H2V3H3V2H5Z" fill="#ff0"/></g>
<g transform="translate(413,180)"><path d="M5,0H8V1H10V2H11V3H12V5H13V8H12V10H11V11H10V12H8V13H5V12H3V11H2V10H1V8H0V5H1V3H2V2H3V1H5Z" fill="#000"/><path d="M5,1H8V2H10V3H11V5H12V8H11V10H10V11H8V12H5V11H3V10H2V8H1V5H2V3H3V2H5Z" fill="#ff0"/></g>
<g transform="translate(416,180)"><path d="M5,0H8V1H10V2H11V3H12V5H13V8H12V10H11V11H10V12H8V13H5V12H3V11H2V10H1V8H0V5H1V3H2V2H3V1H5Z" fill="#000"/><path d="M5,1H8V2H10V3H11V5H12V8H11V10H10V11H8V12H5V11H3V10H2V8H1V5H2V3H3V2H5Z" fill="#ff0"/></g>
<g transform="translate(420,180)"><path d="M5,0H8V1H10V2H11V3H12V5H13V8H12V10H11V11H10V12H8V13H5V12H3V11H2V10H1V8H0V5H1V3H2V2H3V1H5Z" fill="#000"/><path d="M5,1H8V2H10V3H11V5H12V8H11V10H10V11H8V12H5V11H3V10H2V8H1V5H2V3H3V2H5Z" fill="#ff0"/></g>
<g transform="translate(423,180)"><path d="M5,0H8V1H10V2H11V3H12V5H13V8H12V10H11V11H10V12H8V13H5V12H3V11H2V10H1V8H0V5H1V3H2V2H3V1H5Z" fill="#000"/><path d="M5,1H8V2H10V3H11V5H12V8H11V10H10V11H8V12H5V11H3V10H2V8H1V5H2V3H3V2H5Z" fill="#ff0"/></g>
<g transform="translate(426,180)"><path d="M5,0H8V1H10V2H11V3H12V5H13V8H12V10H11V11H10V12H8V13H5V12H3V11H2V10H1V8H0V5H1V3H2V2H3V1H5Z" fill="#000"/><path d="M5,1H8V2H10V3H11V5H12V8H11V10H10V11H8V12H5V11H3V10H2V8H1V5H2V3H3V2H5Z" fill="#ff0"/></g>
<g transform="translate(429,180)"><path d="M5,0H8V1H10V2H11V3H12V5H13V8H12V10H11V11H10V12H8V13H5V12H3V11H2V10H1V8H0V5H1V3H2V2H3V1H5Z" fill="#000"/><path d="M5,1H8V2H10V3H11V5H12V8H11V10H10V11H8V12H5V11H3V10H2V8H1V5H2V3H3V2H5Z" fill="#ff0"/></g>
<g transform="translate(432,180)"><path d="M5,0H8V1H10V2H11V3H12V5H13V8H12V10H11V11H10V12H8V13H5V12H3V11H2V10H1V8H0V5H1V3H2V2H3V1H5Z" fill="#000"/><path d="M5,1H8V2H10V3H11V5H12V8H11V10H10V11H8V12H5V11H3V10H2V8H1V5H2V3H3V2H5Z" fill="#ff0"/></g>
<g transform="translate(435,180)"><path d="M5,0H8V1H10V2H11V3H12V5H13V8H12V10H11V11H10V12H8V13H5V12H3V11H2V10H1V8H0V5H1V3H2V2H3V1H5Z" fill="#000"/><path d="M5,1H8V2H10V3H11V5H12V8H11V10H10V11H8V12H5V11H3V10H2V8H1V5H2V3H3V2H5Z" fill="#ff0"/></g>
<g transform="translate(439,180)"><path d="M5,0H8V1H10V2H11V3H12V5H13V8H12V10H11V11H10V12H8V13H5V12H3V11H2V10H1V8H0V5H1V3H2V2H3V1H5Z" fill="#000"/><path d="M5,1H8V2H10V3H11V5H12V8H11V10H10V11H8V12H5V11H3V10H2V8H1V5H2V3H3V2H5Z" fill="#ff0"/></g>
<g transform="translate(442,180)"><path d="M5,0H8V1H10V2H11V3H12V5H13V8H12V10H11V11H10V12H8V13H5V12H3V11H2V10H1V8H0V5H1V3H2V2H3V1H5Z" fill="#000"/><path d="M5,1H8V2H10V3H11V5H12V8H11V10H10V11H8V12H5V11H3V10H2V8H1V5H2V3H3V2H5Z" fill="#ff0"/></g>
<g transform="translate(445,180)"><path d="M5,0H8V1H10V2H11V3H12V5H13V8H12V10H11V11H10V12H8V13H5V12H3V11H2V10H1V8H0V5H1V3H2V2H3V1H5Z" fill="#000"/><path d="M5,1H8V2H10V3H11V5H12V8H11V10H10V11H8V12H5V11H3V10H2V8H1V5H2V3H3V2H5Z" fill="#ff0"/></g>
<g transform="translate(448,180)"><path d="M5,0H8V1H10V2H11V3H12V5H13V8H12V10H11V11H10V12H8V13H5V12H3V11H2V10H1V8H0V5H1V3H2V2H3V1H5Z" fill="#000"/><path d="M5,1H8V2H10V3H11V5H12V8H11V10H10V11H8V12H5V11H3V10H2V8H1V5H2V3H3V2H5Z" fill="#ff0"/></g>
<g transform="translate(451,180)"><path d="M5,0H8V1H10V2H11V3H12V5H13V8H12V10H11V11H10V12H8V13H5V12H3V11H2V10H1V8H0V5H1V3H2V2H3V1H5Z" fill="#000"/><path d="M5,1H8V2H10V3H11V5H12V8H11V10H10V11H8V12H5V11H3V10H2V8H1V5H2V3H3V2H5Z" fill="#ff0"/></g>
<g transform="translate(454,180)"><path d="M5,0H8V1H10V2H11V3H12V5H13V8H12V10H11V11H10V12H8V13H5V12H3V11H2V10H1V8H0V5H1V3H2V2H3V1H5Z" fill="#000"/><path d="M5,1H8V2H10V3H11V5H12V8H11V10H10V11H8V12H5V11H3V10H2V8H1V5H2V3H3V2H5Z" fill="#ff0"/></g>
<g transform="translate(457,180)"><path d="M5,0H8V1H10V2H11V3H12V5H13V8H12V10H11V11H10V12H8V13H5V12H3V11H2V10H1V8H0V5H1V3H2V2H3V1H5Z" fill="#000"/><path d="M5,1H8V2H10V3H11V5H12V8H11V10H10V11H8V12H5V11H3V10H2V8H1V5H2V3H3V2H5Z" fill="#ff0"/></g>
<g transform="translate(461,180)"><path d="M5,0H8V1H10V2H11V3H12V5H13V8H12V10H11V11H10V12H8V13H5V12H3V11H2V10H1V8H0V5H1V3H2V2H3V1H5Z" fill="#000"/><path d="M5,1H8V2H10V3H11V5H12V8H11V10H10V11H8V12H5V11H3V10H2V8H1V5H2V3H3V2H5Z" fill="#ff0"/></g>
<g transform="translate(464,180)"><path d="M5,0H8V1H10V2H11V3H12V5H13V8H12V10H11V11H10V12H8V13H5V12H3V11H2V10H1V8H0V5H1V3H2V2H3V1H5Z" fill="#000"/><path d="M5,1H8V2H10V3H11V5H12V8H11V10H10V11H8V12H5V11H3V10H2V8H1V5H2V3H3V2H5Z" fill="#ff0"/></g>
<g transform="translate(467,180)"><path d="M5,0H8V1H10V2H11V3H12V5H13V8H12V10H11V11H10V12H8V13H5V12H3V11H2V10H1V8H0V5H1V3H2V2H3V1H5Z" fill="#000"/><path d="M5,1H8V2H10V3H11V5H12V8H11V10H10V11H8V12H5V11H3V10H2V8H1V5H2V3H3V2H5Z" fill="#ff0"/></g>
<g transform="translate(470,180)"><path d="M5,0H8V1H10V2H11V3H12V5H13V8H12V10H11V11H10V12H8V13H5V12H3V11H2V10H1V8H0V5H1V3H2V2H3V1H5Z" fill="#000"/><path d="M5,1H8V2H10V3H11V5H12V8H11V10H10V11H8V12H5V11H3V10H2V8H1V5H2V3H3V2H5Z" fill="#ff0"/></g>
<g transform="translate(473,180)"><path d="M5,0H8V1H10V2H11V3H12V5H13V8H12V10H11V11H10V12H8V13H5V12H3V11H2V10H1V8H0V5H1V3H2V2H3V1H5Z" fill="#000"/><path d="M5,1H8V2H10V3H11V5H12V8H11V10H10V11H8V12H5V11H3V10H2V8H1V5H2V3H3V2H5Z" fill="#ff0"/></g>
<g transform="translate(476,180)"><path d="M5,0H8V1H10V2H11V3H12V5H13V8H12V10H11V11H10V12H8V13H5V12H3V11H2V10H1V8H0V5H1V3H2V2H3V1H5Z" fill="#000"/><path d="M5,1H8V2H10V3H11V5H12V8H11V10H10V11H8V12H5V11H3V10H2V8H1V5H2V3H3V2H5Z" fill="#ff0"/></g>
<g transform="translate(480,180)"><path d="M5,0H8V1H10V2H11V3H12V5H13V8H12V10H11V11H10V12H8V13H5V12H3V11H2V10H1V8H0V5H1V3H2V2H3V1H5Z" fill="#000"/><path d="M5,1H8V2H10V3H11V5H12V8H11V10H10V11H8V12H5V11H3V10H2V8H1V5H2V3H3V2H5Z" fill="#ff0"/></g>
<g transform="translate(483,180)"><path d="M5,0H8V1H10V2H11V3H12V5H13V8H12V10H11V11H10V12H8V13H5V12H3V11H2V10H1V8H0V5H1V3H2V2H3V1H5Z" fill="#000"/><path d="M5,1H8V2H10V3H11V5H12V8H11V10H10V11H8V12H5V11H3V10H2V8H1V5H2V3H3V2H5Z" fill="#ff0"/></g>
<g transform="translate(486,180)"><path d="M5,0H8V1H10V2H11V3H12V5H13V8H12V10H11V11H10V12H8V13H5V12H3V11H2V10H1V8H0V5H1V3H2V2H3V1H5Z" fill="#000"/><path d="M5,1H8V2H10V3H11V5H12V8H11V10H10V11H8V12H5V11H3V10H2V8H1V5H2V3H3V2H5Z" fill="#ff0"/></g>
<g transform="translate(489,180)"><path d="M5,0H8V1H10V2H11V3H12V5H13V8H12V10H11V11H10V12H8V13H5V12H3V11H2V10H1V8H0V5H1V3H2V2H3V1H5Z" fill="#000"/><path d="M5,1H8V2H10V3H11V5H12V8H11V10H10V11H8V12H5V11H3V10H2V8H1V5H2V3H3V2H5Z" fill="#ff0"/></g>
<g transform="translate(492,180)"><path d="M5,0H8V1H10V2H11V3H12V5H13V8H12V10H11V11H10V12H8V13H5V12H3V11H2V10H1V8H0V5H1V3H2V2H3V1H5Z" fill="#000"/><path d="M5,1H8V2H10V3H11V5H12V8H11V10H10V11H8V12H5V11H3V10H2V8H1V5H2V3H3V2H5Z" fill="#ff0"/></g>
<g transform="translate(495,180)"><path d="M5,0H8V1H10V2H11V3H12V5H13V8H12V10H11V11H10V12H8V13H5V12H3V11H2V10H1V8H0V5H1V3H2V2H3V1H5Z" fill="#000"/><path d="M5,1H8V2H10V3H11V5H12V8H11V10H10V11H8V12H5V11H3V10H2V8H1V5H2V3H3V2H5Z" fill="#ff0"/></g>
<g transform="translate(499,180)"><path d="M5,0H8V1H10V2H11V3H12V5H13V8H12V10H11V11H10V12H8V13H5V12H3V11H2V10H1V8H0V5H1V3H2V2H3V1H5Z" fill="#000"/><path d="M5,1H8V2H10V3H11V5H12V8H11V10H10V11H8V12H5V11H3V10H2V8H1V5H2V3H3V2H5Z" fill="#ff0"/></g>
<g transform="translate(502,180)"><path d="M5,0H8V1H10V2H11V3H12V5H13V8H12V10H11V11H10V12H8V13H5V12H3V11H2V10H1V8H0V5H1V3H2V2H3V1H5Z" fill="#000"/><path d="M5,1H8V2H10V3H11V5H12V8H11V10H10V11H8V12H5V11H3V10H2V8H1V5H2V3H3V2H5Z" fill="#ff0"/></g>
<g transform="translate(505,180)"><path d="M5,0H8V1H10V2H11V3H12V5H13V8H12V10H11V11H10V12H8V13H5V12H3V11H2V10H1V8H0V5H1V3H2V2H3V1H5Z" fill="#000"/><path d="M5,1H8V2H10V3H11V5H12V8H11V10H10V11H8V12H5V11H3V10H2V8H1V5H2V3H3V2H5Z" fill="#ff0"/></g>
<g transform="translate(508,180)"><path d="M5,0H8V1H10V2H11V3H12V5H13V8H12V10H11V11H10V12H8V13H5V12H3V11H2V10H1V8H0V5H1V3H2V2H3V1H5Z" fill="#000"/><path d="M5,1H8V2H10V3H11V5H12V8H11V10H10V11H8V12H5V11H3V10H2V8H1V5H2V3H3V2H5Z" fill="#ff0"/></g>
<g transform="translate(511,180)"><path d="M5,0H8V1H10V2H11V3H12V5H13V8H12V10H11V11H10V12H8V13H5V12H3V11H2V10H1V8H0V5H1V3H2V2H3V1H5Z" fill="#000"/><path d="M5,1H8V2H10V3H11V5H12V8H11V10H10V11H8V12H5V11H3V10H2V8H1V5H2V3H3V2H5Z" fill="#ff0"/></g>
<g transform="translate(514,180)"><path d="M5,0H8V1H10V2H11V3H12V5H13V8H12V10H11V11H10V12H8V13H5V12H3V11H2V10H1V8H0V5H1V3H2V2H3V1H5Z" fill="#000"/><path d="M5,1H8V2H10V3H11V5H12V8H11V10H10V11H8V12H5V11H3V10H2V8H1V5H2V3H3V2H5Z" fill="#ff0"/></g>
<g transform="translate(517,180)"><path d="M5,0H8V1H10V2H11V3H12V5H13V8H12V10H11V11H10V12H8V13H5V12H3V11H2V10H1V8H0V5H1V3H2V2H3V1H5Z" fill="#000"/><path d="M5,1H8V2H10V3H11V5H12V8H11V10H10V11H8V12H5V11H3V10H2V8H1V5H2V3H3V2H5Z" fill="#ff0"/></g>
<g transform="translate(521,180)"><path d="M5,0H8V1H10V2H11V3H12V5H13V8H12V10H11V11H10V12H8V13H5V12H3V11H2V10H1V8H0V5H1V3H2V2H3V1H5Z" fill="#000"/><path d="M5,1H8V2H10V3H11V5H12V8H11V10H10V11H8V12H5V11H3V10H2V8H1V5H2V3H3V2H5Z" fill="#ff0"/></g>
<g transform="translate(524,180)"><path d="M5,0H8V1H10V2H11V3H12V5H13V8H12V10H11V11H10V12H8V13H5V12H3V11H2V10H1V8H0V5H1V3H2V2H3V1H5Z" fill="#000"/><path d="M5,1H8V2H10V3H11V5H12V8H11V10H10V11H8V12H5V11H3V10H2V8H1V5H2V3H3V2H5Z" fill="#ff0"/></g>
<g transform="translate(527,180)"><path d="M5,0H8V1H10V2H11V3H12V5H13V8H12V10H11V11H10V12H8V13H5V12H3V11H2V10H1V8H0V5H1V3H2V2H3V1H5Z" fill="#000"/><path d="M5,1H8V2H10V3H11V5H12V8H11V10H10V11H8V12H5V11H3V10H2V8H1V5H2V3H3V2H5Z" fill="#ff0"/></g>
<g transform="translate(530,180)"><path d="M5,0H8V1H10V2H11V3H12V5H13V8H12V10H11V11H10V12H8V13H5V12H3V11H2V10H1V8H0V5H1V3H2V2H3V1H5Z" fill="#000"/><path d="M5,1H8V2H10V3H11V5H12V8H11V10H10V11H8V12H5V11H3V10H2V8H1V5H2V3H3V2H5Z" fill="#ff0"/></g>
<g transform="translate(533,180)"><path d="M5,0H8V1H10V2H11V3H12V5H13V8H12V10H11V11H10V12H8V13H5V12H3V11H2V10H1V8H0V5H1V3H2V2H3V1H5Z" fill="#000"/><path d="M5,1H8V2H10V3H11V5H12V8H11V10H10V11H8V12H5V11H3V10H2V8H1V5H2V3H3V2H5Z" fill="#ff0"/></g>
<g transform="translate(536,180)"><path d="M5,0H8V1H10V2H11V3H12V5H13V8H12V10H11V11H10V12H8V13H5V12H3V11H2V10H1V8H0V5H1V3H2V2H3V1H5Z" fill="#000"/><path d="M5,1H8V2H10V3H11V5H12V8H11V10H10V11H8V12H5V11H3V10H2V8H1V5H2V3H3V2H5Z" fill="#ff0"/></g>
<g transform="translate(540,180)"><path d="M5,0H8V1H10V2H11V3H12V5H13V8H12V10H11V11H10V12H8V13H5V12H3V11H2V10H1V8H0V5H1V3H2V2H3V1H5Z" fill="#000"/><path d="M5,1H8V2H10V3H11V5H12V8H11V10H10V11H8V12H5V11H3V10H2V8H1V5H2V3H3V2H5Z" fill="#ff0"/></g>
<g transform="translate(543,180)"><path d="M5,0H8V1H10V2H11V3H12V5H13V8H12V10H11V11H10V12H8V13H5V12H3V11H2V10H1V8H0V5H1V3H2V2H3V1H5Z" fill="#000"/><path d="M5,1H8V2H10V3H11V5H12V8H11V10H10V11H8V12H5V11H3V10H2V8H1V5H2V3H3V2H5Z" fill="#ff0"/></g>
<g transform="translate(546,180)"><path d="M5,0H8V1H10V2H11V3H12V5H13V8H12V10H11V11H10V12H8V13H5V12H3V11H2V10H1V8H0V5H1V3H2V2H3V1H5Z" fill="#000"/><path d="M5,1H8V2H10V3H11V5H12V8H11V10H10V11H8V12H5V11H3V10H2V8H1V5H2V3H3V2H5Z" fill="#ff0"/></g>
<g transform="translate(549,180)"><path d="M5,0H8V1H10V2H11V3H12V5H13V8H12V10H11V11H10V12H8V13H5V12H3V11H2V10H1V8H0V5H1V3H2V2H3V1H5Z" fill="#000"/><path d="M5,1H8V2H10V3H11V5H12V8H11V10H10V11H8V12H5V11H3V10H2V8H1V5H2V3H3V2H5Z" fill="#ff0"/></g>
<g transform="translate(552,180)"><path d="M5,0H8V1H10V2H11V3H12V5H13V8H12V10H11V11H10V12H8V13H5V12H3V11H2V10H1V8H0V5H1V3H2V2H3V1H5Z" fill="#000"/><path d="M5,1H8V2H10V3H11V5H12V8H11V10H10V11H8V12H5V11H3V10H2V8H1V5H2V3H3V2H5Z" fill="#ff0"/></g>
<g transform="translate(555,180)"><path d="M5,0H8V1H10V2H11V3H12V5H13V8H12V10H11V11H10V12H8V13H5V12H3V11H2V10H1V8H0V5H1V3H2V2H3V1H5Z" fill="#000"/><path d="M5,1H8V2H10V3H11V5H12V8H11V10H10V11H8V12H5V11H3V10H2V8H1V5H2V3H3V2H5Z" fill="#ff0"/></g>
<g transform="translate(558,180)"><path d="M5,0H8V1H10V2H11V3H12V5H13V8H12V10H11V11H10V12H8V13H5V12H3V11H2V10H1V8H0V5H1V3H2V2H3V1H5Z" fill="#000"/><path d="M5,1H8V2H10V3H11V5H12V8H11V10H10V11H8V12H5V11H3V10H2V8H1V5H2V3H3V2H5Z" fill="#ff0"/></g>
<g transform="translate(562,180)"><path d="M5,0H8V1H10V2H11V3H12V5H13V8H12V10H11V11H10V12H8V13H5V12H3V11H2V10H1V8H0V5H1V3H2V2H3V1H5Z" fill="#000"/><path d="M5,1H8V2H10V3H11V5H12V8H11V10H10V11H8V12H5V11H3V10H2V8H1V5H2V3H3V2H5Z" fill="#ff0"/></g>
<g transform="translate(565,180)"><path d="M5,0H8V1H10V2H11V3H12V5H13V8H12V10H11V11H10V12H8V13H5V12H3V11H2V10H1V8H0V5H1V3H2V2H3V1H5Z" fill="#000"/><path d="M5,1H8V2H10V3H11V5H12V8H11V10H10V11H8V12H5V11H3V10H2V8H1V5H2V3H3V2H5Z" fill="#ff0"/></g>
<g transform="translate(568,180)"><path d="M5,0H8V1H10V2H11V3H12V5H13V8H12V10H11V11H10V12H8V13H5V12H3V11H2V10H1V8H0V5H1V3H2V2H3V1H5Z" fill="#000"/><path d="M5,1H8V2H10V3H11V5H12V8H11V10H10V11H8V12H5V11H3V10H2V8H1V5H2V3H3V2H5Z" fill="#ff0"/></g>
<g transform="translate(571,180)"><path d="M5,0H8V1H10V2H11V3H12V5H13V8H12V10H11V11H10V12H8V13H5V12H3V11H2V10H1V8H0V5H1V3H2V2H3V1H5Z" fill="#000"/><path d="M5,1H8V2H10V3H11V5H12V8H11V10H10V11H8V12H5V11H3V10H2V8H1V5H2V3H3V2H5Z" fill="#ff0"/></g>
<g transform="translate(574,180)"><path d="M5,0H8V1H10V2H11V3H12V5H13V8H12V10H11V11H10V12H8V13H5V12H3V11H2V10H1V8H0V5H1V3H2V2H3V1H5Z" fill="#000"/><path d="M5,1H8V2H10V3H11V5H12V8H11V10H10V11H8V12H5V11H3V10H2V8H1V5H2V3H3V2H5Z" fill="#ff0"/></g>
<g transform="translate(577,180)"><path d="M5,0H8V1H10V2H11V3H12V5H13V8H12V10H11V11H10V12H8V13H5V12H3V11H2V10H1V8H0V5H1V3H2V2H3V1H5Z" fill="#000"/><path d="M5,1H8V2H10V3H11V5H12V8H11V10H10V11H8V12H5V11H3V10H2V8H1V5H2V3H3V2H5Z" fill="#ff0"/></g>
<g transform="translate(581,180)"><path d="M5,0H8V1H10V2H11V3H12V5H13V8H12V10H11V11H10V12H8V13H5V12H3V11H2V10H1V8H0V5H1V3H2V2H3V1H5Z" fill="#000"/><path d="M5,1H8V2H10V3H11V5H12V8H11V10H10V11H8V12H5V11H3V10H2V8H1V5H2V3H3V2H5Z" fill="#ff0"/></g>
<g transform="translate(584,180)"><path d="M5,0H8V1H10V2H11V3H12V5H13V8H12V10H11V11H10V12H8V13H5V12H3V11H2V10H1V8H0V5H1V3H2V2H3V1H5Z" fill="#000"/><path d="M5,1H8V2H10V3H11V5H12V8H11V10H10V11H8V12H5V11H3V10H2V8H1V5H2V3H3V2H5Z" fill="#ff0"/></g>
<g transform="translate(587,180)"><path d="M5,0H8V1H10V2H11V3H12V5H13V8H12V10H11V11H10V12H8V13H5V12H3V11H2V10H1V8H0V5H1V3H2V2H3V1H5Z" fill="#000"/><path d="M5,1H8V2H10V3H11V5H12V8H11V10H10V11H8V12H5V11H3V10H2V8H1V5H2V3H3V2H5Z" fill="#ff0"/></g>
<g transform="translate(590,180)"><path d="M5,0H8V1H10V2H11V3H12V5H13V8H12V10H11V11H10V12H8V13H5V12H3V11H2V10H1V8H0V5H1V3H2V2H3V1H5Z" fill="#000"/><path d="M5,1H8V2H10V3H11V5H12V8H11V10H10V11H8V12H5V11H3V10H2V8H1V5H2V3H3V2H5Z" fill="#ff0"/></g>
<g transform="translate(593,180)"><path d="M5,0H8V1H10V2H11V3H12V5H13V8H12V10H11V11H10V12H8V13H5V12H3V11H2V10H1V8H0V5H1V3H2V2H3V1H5Z" fill="#000"/><path d="M5,1H8V2H10V3H11V5H12V8H11V10H10V11H8V12H5V11H3V10H2V8H1V5H2V3H3V2H5Z" fill="#ff0"/></g>
<g transform="translate(596,180)"><path d="M5,0H8V1H10V2H11V3H12V5H13V8H12V10H11V11H10V12H8V13H5V12H3V11H2V10H1V8H0V5H1V3H2V2H3V1H5Z" fill="#000"/><path d="M5,1H8V2H10V3H11V5H12V8H11V10H10V11H8V12H5V11H3V10H2V8H1V5H2V3H3V2H5Z" fill="#ff0"/></g>
<g transform="translate(599,180)"><path d="M5,0H8V1H10V2H11V3H12V5H13V8H12V10H11V11H10V12H8V13H5V12H3V11H2V10H1V8H0V5H1V3H2V2H3V1H5Z" fill="#000"/><path d="M5,1H8V2H10V3H11V5H12V8H11V10H10V11H8V12H5V11H3V10H2V8H1V5H2V3H3V2H5Z" fill="#ff0"/></g>
<g transform="translate(603,180)"><path d="M5,0H8V1H10V2H11V3H12V5H13V8H12V10H11V11H10V12H8V13H5V12H3V11H2V10H1V8H0V5H1V3H2V2H3V1H5Z" fill="#000"/><path d="M5,1H8V2H10V3H11V5H12V8H11V10H10V11H8V12H5V11H3V10H2V8H1V5H2V3H3V2H5Z" fill="#ff0"/></g>
<g transform="translate(606,180)"><path d="M5,0H8V1H10V2H11V3H12V5H13V8H12V10H11V11H10V12H8V13H5V12H3V11H2V10H1V8H0V5H1V3H2V2H3V1H5Z" fill="#000"/><path d="M5,1H8V2H10V3H11V5H12V8H11V10H10V11H8V12H5V11H3V10H2V8H1V5H2V3H3V2H5Z" fill="#ff0"/></g>
<g transform="translate(609,180)"><path d="M5,0H8V1H10V2H11V3H12V5H13V8H12V10H11V11H10V12H8V13H5V12H3V11H2V10H1V8H0V5H1V3H2V2H3V1H5Z" fill="#000"/><path d="M5,1H8V2H10V3H11V5H12V8H11V10H10V11H8V12H5V11H3V10H2V8H1V5H2V3H3V2H5Z" fill="#ff0"/></g>
<g transform="translate(612,180)"><path d="M5,0H8V1H10V2H11V3H12V5H13V8H12V10H11V11H10V12H8V13H5V12H3V11H2V10H1V8H0V5H1V3H2V2H3V1H5Z" fill="#000"/><path d="M5,1H8V2H10V3H11V5H12V8H11V10H10V11H8V12H5V11H3V10H2V8H1V5H2V3H3V2H5Z" fill="#ff0"/></g>
<g transform="translate(615,180)"><path d="M5,0H8V1H10V2H11V3H12V5H13V8H12V10H11V11H10V12H8V13H5V12H3V11H2V10H1V8H0V5H1V3H2V2H3V1H5Z" fill="#000"/><path d="M5,1H8V2H10V3H11V5H12V8H11V10H10V11H8V12H5V11H3V10H2V8H1V5H2V3H3V2H5Z" fill="#ff0"/></g>
<g transform="translate(618,180)"><path d="M5,0H8V1H10V2H11V3H12V5H13V8H12V10H11V11H10V12H8V13H5V12H3V11H2V10H1V8H0V5H1V3H2V2H3V1H5Z" fill="#000"/><path d="M5,1H8V2H10V3H11V5H12V8H11V10H10V11H8V12H5V11H3V10H2V8H1V5H2V3H3V2H5Z" fill="#ff0"/></g>
<g transform="translate(622,180)"><path d="M5,0H8V1H10V2H11V3H12V5H13V8H12V10H11V11H10V12H8V13H5V12H3V11H2V10H1V8H0V5H1V3H2V2H3V1H5Z" fill="#000"/><path d="M5,1H8V2H10V3H11V5H12V8H11V10H10V11H8V12H5V11H3V10H2V8H1V5H2V3H3V2H5Z" fill="#ff0"/></g>
<g transform="translate(625,180)"><path d="M5,0H8V1H10V2H11V3H12V5H13V8H12V10H11V11H10V12H8V13H5V12H3V11H2V10H1V8H0V5H1V3H2V2H3V1H5Z" fill="#000"/><path d="M5,1H8V2H10V3H11V5H12V8H11V10H10V11H8V12H5V11H3V10H2V8H1V5H2V3H3V2H5Z" fill="#ff0"/></g>
<g transform="translate(628,180)"><path d="M5,0H8V1H10V2H11V3H12V5H13V8H12V10H11V11H10V12H8V13H5V12H3V11H2V10H1V8H0V5H1V3H2V2H3V1H5Z" fill="#000"/><path d="M5,1H8V2H10V3H11V5H12V8H11V10H10V11H8V12H5V11H3V10H2V8H1V5H2V3H3V2H5Z" fill="#ff0"/></g>
<g transform="translate(631,180)"><path d="M5,0H8V1H10V2H11V3H12V5H13V8H12V10H11V11H10V12H8V13H5V12H3V11H2V10H1V8H0V5H1V3H2V2H3V1H5Z" fill="#000"/><path d="M5,1H8V2H10V3H11V5H12V8H11V10H10V11H8V12H5V11H3V10H2V8H1V5H2V3H3V2H5Z" fill="#ff0"/></g>
<g transform="translate(634,180)"><path d="M5,0H8V1H10V2H11V3H12V5H13V8H12V10H11V11H10V12H8V13H5V12H3V11H2V10H1V8H0V5H1V3H2V2H3V1H5Z" fill="#000"/><path d="M5,1H8V2H10V3H11V5H12V8H11V10H10V11H8V12H5V11H3V10H2V8H1V5H2V3H3V2H5Z" fill="#ff0"/></g>
<g transform="translate(637,180)"><path d="M5,0H8V1H10V2H11V3H12V5H13V8H12V10H11V11H10V12H8V13H5V12H3V11H2V10H1V8H0V5H1V3H2V2H3V1H5Z" fill="#000"/><path d="M5,1H8V2H10V3H11V5H12V8H11V10H10V11H8V12H5V11H3V10H2V8H1V5H2V3H3V2H5Z" fill="#ff0"/></g>
<g transform="translate(641,180)"><path d="M5,0H8V1H10V2H11V3H12V5H13V8H12V10H11V11H10V12H8V13H5V12H3V11H2V10H1V8H0V5H1V3H2V2H3V1H5Z" fill="#000"/><path d="M5,1H8V2H10V3H11V5H12V8H11V10H10V11H8V12H5V11H3V10H2V8H1V5H2V3H3V2H5Z" fill="#ff0"/></g>
<g transform="translate(644,180)"><path d="M5,0H8V1H10V2H11V3H12V5H13V8H12V10H11V11H10V12H8V13H5V12H3V11H2V10H1V8H0V5H1V3H2V2H3V1H5Z" fill="#000"/><path d="M5,1H8V2H10V3H11V5H12V8H11V10H10V11H8V12H5V11H3V10H2V8H1V5H2V3H3V2H5Z" fill="#ff0"/></g>
<g transform="translate(647,180)"><path d="M5,0H8V1H10V2H11V3H12V5H13V8H12V10H11V11H10V12H8V13H5V12H3V11H2V10H1V8H0V5H1V3H2V2H3V1H5Z" fill="#000"/><path d="M5,1H8V2H10V3H11V5H12V8H11V10H10V11H8V12H5V11H3V10H2V8H1V5H2V3H3V2H5Z" fill="#ff0"/></g>
<g transform="translate(650,180)"><path d="M5,0H8V1H10V2H11V3H12V5H13V8H12V10H11V11H10V12H8V13H5V12H3V11H2V10H1V8H0V5H1V3H2V2H3V1H5Z" fill="#000"/><path d="M5,1H8V2H10V3H11V5H12V8H11V10H10V11H8V12H5V11H3V10H2V8H1V5H2V3H3V2H5Z" fill="#ff0"/></g>
<g transform="translate(653,180)"><path d="M5,0H8V1H10V2H11V3H12V5H13V8H12V10H11V11H10V12H8V13H5V12H3V11H2V10H1V8H0V5H1V3H2V2H3V1H5Z" fill="#000"/><path d="M5,1H8V2H10V3H11V5H12V8H11V10H10V11H8V12H5V11H3V10H2V8H1V5H2V3H3V2H5Z" fill="#ff0"/></g>
<g transform="translate(656,180)"><path d="M5,0H8V1H10V2H11V3H12V5H13V8H12V10H11V11H10V12H8V13H5V12H3V11H2V10H1V8H0V5H1V3H2V2H3V1H5Z" fill="#000"/><path d="M5,1H8V2H10V3H11V5H12V8H11V10H10V11H8V12H5V11H3V10H2V8H1V5H2V3H3V2H5Z" fill="#ff0"/></g>
<g transform="translate(659,180)"><path d="M5,0H8V1H10V2H11V3H12V5H13V8H12V10H11V11H10V12H8V13H5V12H3V11H2V10H1V8H0V5H1V3H2V2H3V1H5Z" fill="#000"/><path d="M5,1H8V2H10V3H11V5H12V8H11V10H10V11H8V12H5V11H3V10H2V8H1V5H2V3H3V2H5Z" fill="#ff0"/></g>
<g transform="translate(663,180)"><path d="M5,0H8V1H10V2H11V3H12V5H13V8H12V10H11V11H10V12H8V13H5V12H3V11H2V10H1V8H0V5H1V3H2V2H3V1H5Z" fill="#000"/><path d="M5,1H8V2H10V3H11V5H12V8H11V10H10V11H8V12H5V11H3V10H2V8H1V5H2V3H3V2H5Z" fill="#ff0"/></g>
<g transform="translate(666,180)"><path d="M5,0H8V1H10V2H11V3H12V5H13V8H12V10H11V11H10V12H8V13H5V12H3V11H2V10H1V8H0V5H1V3H2V2H3V1H5Z" fill="#000"/><path d="M5,1H8V2H10V3H11V5H12V8H11V10H10V11H8V12H5V11H3V10H2V8H1V5H2V3H3V2H5Z" fill="#ff0"/></g>
<g transform="translate(669,180)"><path d="M5,0H8V1H10V2H11V3H12V5H13V8H12V10H11V11H10V12H8V13H5V12H3V11H2V10H1V8H0V5H1V3H2V2H3V1H5Z" fill="#000"/><path d="M5,1H8V2H10V3H11V5H12V8H11V10H10V11H8V12H5V11H3V10H2V8H1V5H2V3H3V2H5Z" fill="#ff0"/></g>
<g transform="translate(672,180)"><path d="M5,0H8V1H10V2H11V3H12V5H13V8H12V10H11V11H10V12H8V13H5V12H3V11H2V10H1V8H0V5H1V3H2V2H3V1H5Z" fill="#000"/><path d="M5,1H8V2H10V3H11V5H12V8H11V10H10V11H8V12H5V11H3V10H2V8H1V5H2V3H3V2H5Z" fill="#ff0"/></g>
<g transform="translate(675,180)"><path d="M5,0H8V1H10V2H11V3H12V5H13V8H12V10H11V11H10V12H8V13H5V12H3V11H2V10H1V8H0V5H1V3H2V2H3V1H5Z" fill="#000"/><path d="M5,1H8V2H10V3H11V5H12V8H11V10H10V11H8V12H5V11H3V10H2V8H1V5H2V3H3V2H5Z" fill="#ff0"/></g>
<g transform="translate(678,180)"><path d="M5,0H8V1H10V2H11V3H12V5H13V8H12V10H11V11H10V12H8V13H5V12H3V11H2V10H1V8H0V5H1V3H2V2H3V1H5Z" fill="#000"/><path d="M5,1H8V2H10V3H11V5H12V8H11V10H10V11H8V12H5V11H3V10H2V8H1V5H2V3H3V2H5Z" fill="#ff0"/></g>
<g transform="translate(682,180)"><path d="M5,0H8V1H10V2H11V3H12V5H13V8H12V10H11V11H10V12H8V13H5V12H3V11H2V10H1V8H0V5H1V3H2V2H3V1H5Z" fill="#000"/><path d="M5,1H8V2H10V3H11V5H12V8H11V10H10V11H8V12H5V11H3V10H2V8H1V5H2V3H3V2H5Z" fill="#ff0"/></g>
<g transform="translate(685,180)"><path d="M5,0H8V1H10V2H11V3H12V5H13V8H12V10H11V11H10V12H8V13H5V12H3V11H2V10H1V8H0V5H1V3H2V2H3V1H5Z" fill="#000"/><path d="M5,1H8V2H10V3H11V5H12V8H11V10H10V11H8V12H5V11H3V10H2V8H1V5H2V3H3V2H5Z" fill="#ff0"/></g>
<g transform="translate(688,180)"><path d="M5,0H8V1H10V2H11V3H12V5H13V8H12V10H11V11H10V12H8V13H5V12H3V11H2V10H1V8H0V5H1V3H2V2H3V1H5Z" fill="#000"/><path d="M5,1H8V2H10V3H11V5H12V8H11V10H10V11H8V12H5V11H3V10H2V8H1V5H2V3H3V2H5Z" fill="#ff0"/></g>
<g transform="translate(691,180)"><path d="M5,0H8V1H10V2H11V3H12V5H13V8H12V10H11V11H10V12H8V13H5V12H3V11H2V10H1V8H0V5H1V3H2V2H3V1H5Z" fill="#000"/><path d="M5,1H8V2H10V3H11V5H12V8H11V10H10V11H8V12H5V11H3V10H2V8H1V5H2V3H3V2H5Z" fill="#ff0"/></g>
<g transform="translate(694,180)"><path d="M5,0H8V1H10V2H11V3H12V5H13V8H12V10H11V11H10V12H8V13H5V12H3V11H2V10H1V8H0V5H1V3H2V2H3V1H5Z" fill="#000"/><path d="M5,1H8V2H10V3H11V5H12V8H11V10H10V11H8V12H5V11H3V10H2V8H1V5H2V3H3V2H5Z" fill="#ff0"/></g>
<g transform="translate(697,180)"><path d="M5,0H8V1H10V2H11V3H12V5H13V8H12V10H11V11H10V12H8V13H5V12H3V11H2V10H1V8H0V5H1V3H2V2H3V1H5Z" fill="#000"/><path d="M5,1H8V2H10V3H11V5H12V8H11V10H10V11H8V12H5V11H3V10H2V8H1V5H2V3H3V2H5Z" fill="#ff0"/></g>
<g transform="translate(700,180)"><path d="M5,0H8V1H10V2H11V3H12V5H13V8H12V10H11V11H10V12H8V13H5V12H3V11H2V10H1V8H0V5H1V3H2V2H3V1H5Z" fill="#000"/><path d="M5,1H8V2H10V3H11V5H12V8H11V10H10V11H8V12H5V11H3V10H2V8H1V5H2V3H3V2H5Z" fill="#ff0"/></g>
<g transform="translate(704,180)"><path d="M5,0H8V1H10V2H11V3H12V5H13V8H12V10H11V11H10V12H8V13H5V12H3V11H2V10H1V8H0V5H1V3H2V2H3V1H5Z" fill="#000"/><path d="M5,1H8V2H10V3H11V5H12V8H11V10H10V11H8V12H5V11H3V10H2V8H1V5H2V3H3V2H5Z" fill="#ff0"/></g>
<g transform="translate(707,180)"><path d="M5,0H8V1H10V2H11V3H12V5H13V8H12V10H11V11H10V12H8V13H5V12H3V11H2V10H1V8H0V5H1V3H2V2H3V1H5Z" fill="#000"/><path d="M5,1H8V2H10V3H11V5H12V8H11V10H10V11H8V12H5V11H3V10H2V8H1V5H2V3H3V2H5Z" fill="#ff0"/></g>
<g transform="translate(710,180)"><path d="M5,0H8V1H10V2H11V3H12V5H13V8H12V10H11V11H10V12H8V13H5V12H3V11H2V10H1V8H0V5H1V3H2V2H3V1H5Z" fill="#000"/><path d="M5,1H8V2H10V3H11V5H12V8H11V10H10V11H8V12H5V11H3V10H2V8H1V5H2V3H3V2H5Z" fill="#ff0"/></g>
<g transform="translate(713,180)"><path d="M5,0H8V1H10V2H11V3H12V5H13V8H12V10H11V11H10V12H8V13H5V12H3V11H2V10H1V8H0V5H1V3H2V2H3V1H5Z" fill="#000"/><path d="M5,1H8V2H10V3H11V5H12V8H11V10H10V11H8V12H5V11H3V10H2V8H1V5H2V3H3V2H5Z" fill="#ff0"/></g>
<g transform="translate(716,180)"><path d="M5,0H8V1H10V2H11V3H12V5H13V8H12V10H11V11H10V12H8V13H5V12H3V11H2V10H1V8H0V5H1V3H2V2H3V1H5Z" fill="#000"/><path d="M5,1H8V2H10V3H11V5H12V8H11V10H10V11H8V12H5V11H3V10H2V8H1V5H2V3H3V2H5Z" fill="#ff0"/></g>
<g transform="translate(719,180)"><path d="M5,0H8V1H10V2H11V3H12V5H13V8H12V10H11V11H10V12H8V13H5V12H3V11H2V10H1V8H0V5H1V3H2V2H3V1H5Z" fill="#000"/><path d="M5,1H8V2H10V3H11V5H12V8H11V10H10V11H8V12H5V11H3V10H2V8H1V5H2V3H3V2H5Z" fill="#ff0"/></g>
<g transform="translate(723,180)"><path d="M5,0H8V1H10V2H11V3H12V5H13V8H12V10H11V11H10V12H8V13H5V12H3V11H2V10H1V8H0V5H1V3H2V2H3V1H5Z" fill="#000"/><path d="M5,1H8V2H10V3H11V5H12V8H11V10H10V11H8V12H5V11H3V10H2V8H1V5H2V3H3V2H5Z" fill="#ff0"/></g>
<g transform="translate(726,180)"><path d="M5,0H8V1H10V2H11V3H12V5H13V8H12V10H11V11H10V12H8V13H5V12H3V11H2V10H1V8H0V5H1V3H2V2H3V1H5Z" fill="#000"/><path d="M5,1H8V2H10V3H11V5H12V8H11V10H10V11H8V12H5V11H3V10H2V8H1V5H2V3H3V2H5Z" fill="#ff0"/></g>
<g transform="translate(729,180)"><path d="M5,0H8V1H10V2H11V3H12V5H13V8H12V10H11V11H10V12H8V13H5V12H3V11H2V10H1V8H0V5H1V3H2V2H3V1H5Z" fill="#000"/><path d="M5,1H8V2H10V3H11V5H12V8H11V10H10V11H8V12H5V11H3V10H2V8H1V5H2V3H3V2H5Z" fill="#ff0"/></g>
<g transform="translate(732,180)"><path d="M5,0H8V1H10V2H11V3H12V5H13V8H12V10H11V11H10V12H8V13H5V12H3V11H2V10H1V8H0V5H1V3H2V2H3V1H5Z" fill="#000"/><path d="M5,1H8V2H10V3H11V5H12V8H11V10H10V11H8V12H5V11H3V10H2V8H1V5H2V3H3V2H5Z" fill="#ff0"/></g>
<g transform="translate(735,180)"><path d="M5,0H8V1H10V2H11V3H12V5H13V8H12V10H11V11H10V12H8V13H5V12H3V11H2V10H1V8H0V5H1V3H2V2H3V1H5Z" fill="#000"/><path d="M5,1H8V2H10V3H11V5H12V8H11V10H10V11H8V12H5V11H3V10H2V8H1V5H2V3H3V2H5Z" fill="#ff0"/></g>
<g transform="translate(738,180)"><path d="M5,0H8V1H10V2H11V3H12V5H13V8H12V10H11V11H10V12H8V13H5V12H3V11H2V10H1V8H0V5H1V3H2V2H3V1H5Z" fill="#000"/><path d="M5,1H8V2H10V3H11V5H12V8H11V10H10V11H8V12H5V11H3V10H2V8H1V5H2V3H3V2H5Z" fill="#ff0"/></g>
<g transform="translate(742,180)"><path d="M5,0H8V1H10V2H11V3H12V5H13V8H12V10H11V11H10V12H8V13H5V12H3V11H2V10H1V8H0V5H1V3H2V2H3V1H5Z" fill="#000"/><path d="M5,1H8V2H10V3H11V5H12V8H11V10H10V11H8V12H5V11H3V10H2V8H1V5H2V3H3V2H5Z" fill="#ff0"/></g>
<g transform="translate(745,180)"><path d="M5,0H8V1H10V2H11V3H12V5H13V8H12V10H11V11H10V12H8V13H5V12H3V11H2V10H1V8H0V5H1V3H2V2H3V1H5Z" fill="#000"/><path d="M5,1H8V2H10V3H11V5H12V8H11V10H10V11H8V12H5V11H3V10H2V8H1V5H2V3H3V2H5Z" fill="#ff0"/></g>
<g transform="translate(748,180)"><path d="M5,0H8V1H10V2H11V3H12V5H13V8H12V10H11V11H10V12H8V13H5V12H3V11H2V10H1V8H0V5H1V3H2V2H3V1H5Z" fill="#000"/><path d="M5,1H8V2H10V3H11V5H12V8H11V10H10V11H8V12H5V11H3V10H2V8H1V5H2V3H3V2H5Z" fill="#ff0"/></g>
<g transform="translate(751,180)"><path d="M5,0H8V1H10V2H11V3H12V5H13V8H12V10H11V11H10V12H8V13H5V12H3V11H2V10H1V8H0V5H1V3H2V2H3V1H5Z" fill="#000"/><path d="M5,1H8V2H10V3H11V5H12V8H11V10H10V11H8V12H5V11H3V10H2V8H1V5H2V3H3V2H5Z" fill="#ff0"/></g>
<g transform="translate(754,180)"><path d="M5,0H8V1H10V2H11V3H12V5H13V8H12V10H11V11H10V12H8V13H5V12H3V11H2V10H1V8H0V5H1V3H2V2H3V1H5Z" fill="#000"/><path d="M5,1H8V2H10V3H11V5H12V8H11V10H10V11H8V12H5V11H3V10H2V8H1V5H2V3H3V2H5Z" fill="#ff0"/></g>
<g transform="translate(757,180)"><path d="M5,0H8V1H10V2H11V3H12V5H13V8H12V10H11V11H10V12H8V13H5V12H3V11H2V10H1V8H0V5H1V3H2V2H3V1H5Z" fill="#000"/><path d="M5,1H8V2H10V3H11V5H12V8H11V10H10V11H8V12H5V11H3V10H2V8H1V5H2V3H3V2H5Z" fill="#ff0"/></g>
<g transform="translate(760,180)"><path d="M5,0H8V1H10V2H11V3H12V5H13V8H12V10H11V11H10V12H8V13H5V12H3V11H2V10H1V8H0V5H1V3H2V2H3V1H5Z" fill="#000"/><path d="M5,1H8V2H10V3H11V5H12V8H11V10H10V11H8V12H5V11H3V10H2V8H1V5H2V3H3V2H5Z" fill="#ff0"/></g>
<g transform="translate(764,180)"><path d="M5,0H8V1H10V2H11V3H12V5H13V8H12V10H11V11H10V12H8V13H5V12H3V11H2V10H1V8H0V5H1V3H2V2H3V1H5Z" fill="#000"/><path d="M5,1H8V2H10V3H11V5H12V8H11V10H10V11H8V12H5V11H3V10H2V8H1V5H2V3H3V2H5Z" fill="#ff0"/></g>
<g transform="translate(767,180)"><path d="M5,0H8V1H10V2H11V3H12V5H13V8H12V10H11V11H10V12H8V13H5V12H3V11H2V10H1V8H0V5H1V3H2V2H3V1H5Z" fill="#000"/><path d="M5,1H8V2H10V3H11V5H12V8H11V10H10V11H8V12H5V11H3V10H2V8H1V5H2V3H3V2H5Z" fill="#ff0"/></g>
<g transform="translate(770,180)"><path d="M5,0H8V1H10V2H11V3H12V5H13V8H12V10H11V11H10V12H8V13H5V12H3V11H2V10H1V8H0V5H1V3H2V2H3V1H5Z" fill="#000"/><path d="M5,1H8V2H10V3H11V5H12V8H11V10H10V11H8V12H5V11H3V10H2V8H1V5H2V3H3V2H5Z" fill="#ff0"/></g>
<g transform="translate(773,180)"><path d="M5,0H8V1H10V2H11V3H12V5H13V8H12V10H11V11H10V12H8V13H5V12H3V11H2V10H1V8H0V5H1V3H2V2H3V1H5Z" fill="#000"/><path d="M5,1H8V2H10V3H11V5H12V8H11V10H10V11H8V12H5V11H3V10H2V8H1V5H2V3H3V2H5Z" fill="#ff0"/></g>
<g transform="translate(776,180)"><path d="M5,0H8V1H10V2H11V3H12V5H13V8H12V10H11V11H10V12H8V13H5V12H3V11H2V10H1V8H0V5H1V3H2V2H3V1H5Z" fill="#000"/><path d="M5,1H8V2H10V3H11V5H12V8H11V10H10V11H8V12H5V11H3V10H2V8H1V5H2V3H3V2H5Z" fill="#ff0"/></g>
<g transform="translate(779,180)"><path d="M5,0H8V1H10V2H11V3H12V5H13V8H12V10H11V11H10V12H8V13H5V12H3V11H2V10H1V8H0V5H1V3H2V2H3V1H5Z" fill="#000"/><path d="M5,1H8V2H10V3H11V5H12V8H11V10H10V11H8V12H5V11H3V10H2V8H1V5H2V3H3V2H5Z" fill="#ff0"/></g>
<g transform="translate(783,180)"><path d="M5,0H8V1H10V2H11V3H12V5H13V8H12V10H11V11H10V12H8V13H5V12H3V11H2V10H1V8H0V5H1V3H2V2H3V1H5Z" fill="#000"/><path d="M5,1H8V2H10V3H11V5H12V8H11V10H10V11H8V12H5V11H3V10H2V8H1V5H2V3H3V2H5Z" fill="#ff0"/></g>
<g transform="translate(786,180)"><path d="M5,0H8V1H10V2H11V3H12V5H13V8H12V10H11V11H10V12H8V13H5V12H3V11H2V10H1V8H0V5H1V3H2V2H3V1H5Z" fill="#000"/><path d="M5,1H8V2H10V3H11V5H12V8H11V10H10V11H8V12H5V11H3V10H2V8H1V5H2V3H3V2H5Z" fill="#ff0"/></g>
<g transform="translate(789,180)"><path d="M5,0H8V1H10V2H11V3H12V5H13V8H12V10H11V11H10V12H8V13H5V12H3V11H2V10H1V8H0V5H1V3H2V2H3V1H5Z" fill="#000"/><path d="M5,1H8V2H10V3H11V5H12V8H11V10H10V11H8V12H5V11H3V10H2V8H1V5H2V3H3V2H5Z" fill="#ff0"/></g>
<g transform="translate(158,343)"><path d="M5,0H8V1H10V2H11V3H12V5H13V8H12V10H11V11H10V12H8V13H5V12H3V11H2V10H1V8H0V5H1V3H2V2H3V1H5Z" fill="#000"/><path d="M5,1H8V2H10V3H11V5H12V8H11V10H10V11H8V12H5V11H3V10H2V8H1V5H2V3H3V2H5Z" fill="#ff0"/></g>
<g transform="translate(161,327)"><path d="M5,0H8V1H10V2H11V3H12V5H13V8H12V10H11V11H10V12H8V13H5V12H3V11H2V10H1V8H0V5H1V3H2V2H3V1H5Z" fill="#000"/><path d="M5,1H8V2H10V3H11V5H12V8H11V10H10V11H8V12H5V11H3V10H2V8H1V5H2V3H3V2H5Z" fill="#ff0"/></g>
<g transform="translate(164,327)"><path d="M5,0H8V1H10V2H11V3H12V5H13V8H12V10H11V11H10V12H8V13H5V12H3V11H2V10H1V8H0V5H1V3H2V2H3V1H5Z" fill="#000"/><path d="M5,1H8V2H10V3H11V5H12V8H11V10H10V11H8V12H5V11H3V10H2V8H1V5H2V3H3V2H5Z" fill="#ff0"/></g>
<g transform="translate(167,327)"><path d="M5,0H8V1H10V2H11V3H12V5H13V8H12V10H11V11H10V12H8V13H5V12H3V11H2V10H1V8H0V5H1V3H2V2H3V1H5Z" fill="#000"/><path d="M5,1H8V2H10V3H11V5H12V8H11V10H10V11H8V12H5V11H3V10H2V8H1V5H2V3H3V2H5Z" fill="#ff0"/></g>
<g transform="translate(170,343)"><path d="M5,0H8V1H10V2H11V3H12V5H13V8H12V10H11V11H10V12H8V13H5V12H3V11H2V10H1V8H0V5H1V3H2V2H3V1H5Z" fill="#000"/><path d="M5,1H8V2H10V3H11V5H12V8H11V10H10V11H8V12H5V11H3V10H2V8H1V5H2V3H3V2H5Z" fill="#ff0"/></g>
<g transform="translate(173,343)"><path d="M5,0H8V1H10V2H11V3H12V5H13V8H12V10H11V11H10V12H8V13H5V12H3V11H2V10H1V8H0V5H1V3H2V2H3V1H5Z" fill="#000"/><path d="M5,1H8V2H10V3H11V5H12V8H11V10H10V11H8V12H5V11H3V10H2V8H1V5H2V3H3V2H5Z" fill="#ff0"/></g>
<g transform="translate(177,312)"><path d="M5,0H8V1H10V2H11V3H12V5H13V8H12V10H11V11H10V12H8V13H5V12H3V11H2V10H1V8H0V5H1V3H2V2H3V1H5Z" fill="#000"/><path d="M5,1H8V2H10V3H11V5H12V8H11V10H10V11H8V12H5V11H3V10H2V8H1V5H2V3H3V2H5Z" fill="#ff0"/></g>
<g transform="translate(180,327)"><path d="M5,0H8V1H10V2H11V3H12V5H13V8H12V10H11V11H10V12H8V13H5V12H3V11H2V10H1V8H0V5H1V3H2V2H3V1H5Z" fill="#000"/><path d="M5,1H8V2H10V3H11V5H12V8H11V10H10V11H8V12H5V11H3V10H2V8H1V5H2V3H3V2H5Z" fill="#ff0"/></g>
<g transform="translate(183,327)"><path d="M5,0H8V1H10V2H11V3H12V5H13V8H12V10H11V11H10V12H8V13H5V12H3V11H2V10H1V8H0V5H1V3H2V2H3V1H5Z" fill="#000"/><path d="M5,1H8V2H10V3H11V5H12V8H11V10H10V11H8V12H5V11H3V10H2V8H1V5H2V3H3V2H5Z" fill="#ff0"/></g>
<g transform="translate(186,296)"><path d="M5,0H8V1H10V2H11V3H12V5H13V8H12V10H11V11H10V12H8V13H5V12H3V11H2V10H1V8H0V5H1V3H2V2H3V1H5Z" fill="#000"/><path d="M5,1H8V2H10V3H11V5H12V8H11V10H10V11H8V12H5V11H3V10H2V8H1V5H2V3H3V2H5Z" fill="#ff0"/></g>
<g transform="translate(189,327)"><path d="M5,0H8V1H10V2H11V3H12V5H13V8H12V10H11V11H10V12H8V13H5V12H3V11H2V10H1V8H0V5H1V3H2V2H3V1H5Z" fill="#000"/><path d="M5,1H8V2H10V3H11V5H12V8H11V10H10V11H8V12H5V11H3V10H2V8H1V5H2V3H3V2H5Z" fill="#ff0"/></g>
<g transform="translate(192,343)"><path d="M5,0H8V1H10V2H11V3H12V5H13V8H12V10H11V11H10V12H8V13H5V12H3V11H2V10H1V8H0V5H1V3H2V2H3V1H5Z" fill="#000"/><path d="M5,1H8V2H10V3H11V5H12V8H11V10H10V11H8V12H5V11H3V10H2V8H1V5H2V3H3V2H5Z" fill="#ff0"/></g>
<g transform="translate(196,312)"><path d="M5,0H8V1H10V2H11V3H12V5H13V8H12V10H11V11H10V12H8V13H5V12H3V11H2V10H1V8H0V5H1V3H2V2H3V1H5Z" fill="#000"/><path d="M5,1H8V2H10V3H11V5H12V8H11V10H10V11H8V12H5V11H3V10H2V8H1V5H2V3H3V2H5Z" fill="#ff0"/></g>
<g transform="translate(199,359)"><path d="M5,0H8V1H10V2H11V3H12V5H13V8H12V10H11V11H10V12H8V13H5V12H3V11H2V10H1V8H0V5H1V3H2V2H3V1H5Z" fill="#000"/><path d="M5,1H8V2H10V3H11V5H12V8H11V10H10V11H8V12H5V11H3V10H2V8H1V5H2V3H3V2H5Z" fill="#ff0"/></g>
<g transform="translate(202,327)"><path d="M5,0H8V1H10V2H11V3H12V5H13V8H12V10H11V11H10V12H8V13H5V12H3V11H2V10H1V8H0V5H1V3H2V2H3V1H5Z" fill="#000"/><path d="M5,1H8V2H10V3H11V5H12V8H11V10H10V11H8V12H5V11H3V10H2V8H1V5H2V3H3V2H5Z" fill="#ff0"/></g>
<g transform="translate(205,343)"><path d="M5,0H8V1H10V2H11V3H12V5H13V8H12V10H11V11H10V12H8V13H5V12H3V11H2V10H1V8H0V5H1V3H2V2H3V1H5Z" fill="#000"/><path d="M5,1H8V2H10V3H11V5H12V8H11V10H10V11H8V12H5V11H3V10H2V8H1V5H2V3H3V2H5Z" fill="#ff0"/></g>
<g transform="translate(208,327)"><path d="M5,0H8V1H10V2H11V3H12V5H13V8H12V10H11V11H10V12H8V13H5V12H3V11H2V10H1V8H0V5H1V3H2V2H3V1H5Z" fill="#000"/><path d="M5,1H8V2H10V3H11V5H12V8H11V10H10V11H8V12H5V11H3V10H2V8H1V5H2V3H3V2H5Z" fill="#ff0"/></g>
<g transform="translate(211,343)"><path d="M5,0H8V1H10V2H11V3H12V5H13V8H12V10H11V11H10V12H8V13H5V12H3V11H2V10H1V8H0V5H1V3H2V2H3V1H5Z" fill="#000"/><path d="M5,1H8V2H10V3H11V5H12V8H11V10H10V11H8V12H5V11H3V10H2V8H1V5H2V3H3V2H5Z" fill="#ff0"/></g>
<g transform="translate(214,343)"><path d="M5,0H8V1H10V2H11V3H12V5H13V8H12V10H11V11H10V12H8V13H5V12H3V11H2V10H1V8H0V5H1V3H2V2H3V1H5Z" fill="#000"/><path d="M5,1H8V2H10V3H11V5H12V8H11V10H10V11H8V12H5V11H3V10H2V8H1V5H2V3H3V2H5Z" fill="#ff0"/></g>
<g transform="translate(218,343)"><path d="M5,0H8V1H10V2H11V3H12V5H13V8H12V10H11V11H10V12H8V13H5V12H3V11H2V10H1V8H0V5H1V3H2V2H3V1H5Z" fill="#000"/><path d="M5,1H8V2H10V3H11V5H12V8H11V10H10V11H8V12H5V11H3V10H2V8H1V5H2V3H3V2H5Z" fill="#ff0"/></g>
<g transform="translate(221,343)"><path d="M5,0H8V1H10V2H11V3H12V5H13V8H12V10H11V11H10V12H8V13H5V12H3V11H2V10H1V8H0V5H1V3H2V2H3V1H5Z" fill="#000"/><path d="M5,1H8V2H10V3H11V5H12V8H11V10H10V11H8V12H5V11H3V10H2V8H1V5H2V3H3V2H5Z" fill="#ff0"/></g>
<g transform="translate(224,343)"><path d="M5,0H8V1H10V2H11V3H12V5H13V8H12V10H11V11H10V12H8V13H5V12H3V11H2V10H1V8H0V5H1V3H2V2H3V1H5Z" fill="#000"/><path d="M5,1H8V2H10V3H11V5H12V8H11V10H10V11H8V12H5V11H3V10H2V8H1V5H2V3H3V2H5Z" fill="#ff0"/></g>
<g transform="translate(227,343)"><path d="M5,0H8V1H10V2H11V3H12V5H13V8H12V10H11V11H10V12H8V13H5V12H3V11H2V10H1V8H0V5H1V3H2V2H3V1H5Z" fill="#000"/><path d="M5,1H8V2H10V3H11V5H12V8H11V10H10V11H8V12H5V11H3V10H2V8H1V5H2V3H3V2H5Z" fill="#ff0"/></g>
<g transform="translate(230,343)"><path d="M5,0H8V1H10V2H11V3H12V5H13V8H12V10H11V11H10V12H8V13H5V12H3V11H2V10H1V8H0V5H1V3H2V2H3V1H5Z" fill="#000"/><path d="M5,1H8V2H10V3H11V5H12V8H11V10H10V11H8V12H5V11H3V10H2V8H1V5H2V3H3V2H5Z" fill="#ff0"/></g>
<g transform="translate(233,343)"><path d="M5,0H8V1H10V2H11V3H12V5H13V8H12V10H11V11H10V12H8V13H5V12H3V11H2V10H1V8H0V5H1V3H2V2H3V1H5Z" fill="#000"/><path d="M5,1H8V2H10V3H11V5H12V8H11V10H10V11H8V12H5V11H3V10H2V8H1V5H2V3H3V2H5Z" fill="#ff0"/></g>
<g transform="translate(237,359)"><path d="M5,0H8V1H10V2H11V3H12V5H13V8H12V10H11V11H10V12H8V13H5V12H3V11H2V10H1V8H0V5H1V3H2V2H3V1H5Z" fill="#000"/><path d="M5,1H8V2H10V3H11V5H12V8H11V10H10V11H8V12H5V11H3V10H2V8H1V5H2V3H3V2H5Z" fill="#ff0"/></g>
<g transform="translate(240,343)"><path d="M5,0H8V1H10V2H11V3H12V5H13V8H12V10H11V11H10V12H8V13H5V12H3V11H2V10H1V8H0V5H1V3H2V2H3V1H5Z" fill="#000"/><path d="M5,1H8V2H10V3H11V5H12V8H11V10H10V11H8V12H5V11H3V10H2V8H1V5H2V3H3V2H5Z" fill="#ff0"/></g>
<g transform="translate(243,343)"><path d="M5,0H8V1H10V2H11V3H12V5H13V8H12V10H11V11H10V12H8V13H5V12H3V11H2V10H1V8H0V5H1V3H2V2H3V1H5Z" fill="#000"/><path d="M5,1H8V2H10V3H11V5H12V8H11V10H10V11H8V12H5V11H3V10H2V8H1V5H2V3H3V2H5Z" fill="#ff0"/></g>
<g transform="translate(246,343)"><path d="M5,0H8V1H10V2H11V3H12V5H13V8H12V10H11V11H10V12H8V13H5V12H3V11H2V10H1V8H0V5H1V3H2V2H3V1H5Z" fill="#000"/><path d="M5,1H8V2H10V3H11V5H12V8H11V10H10V11H8V12H5V11H3V10H2V8H1V5H2V3H3V2H5Z" fill="#ff0"/></g>
<g transform="translate(249,343)"><path d="M5,0H8V1H10V2H11V3H12V5H13V8H12V10H11V11H10V12H8V13H5V12H3V11H2V10H1V8H0V5H1V3H2V2H3V1H5Z" fill="#000"/><path d="M5,1H8V2H10V3H11V5H12V8H11V10H10V11H8V12H5V11H3V10H2V8H1V5H2V3H3V2H5Z" fill="#ff0"/></g>
<g transform="translate(252,343)"><path d="M5,0H8V1H10V2H11V3H12V5H13V8H12V10H11V11H10V12H8V13H5V12H3V11H2V10H1V8H0V5H1V3H2V2H3V1H5Z" fill="#000"/><path d="M5,1H8V2H10V3H11V5H12V8H11V10H10V11H8V12H5V11H3V10H2V8H1V5H2V3H3V2H5Z" fill="#ff0"/></g>
<g transform="translate(255,343)"><path d="M5,0H8V1H10V2H11V3H12V5H13V8H12V10H11V11H10V12H8V13H5V12H3V11H2V10H1V8H0V5H1V3H2V2H3V1H5Z" fill="#000"/><path d="M5,1H8V2H10V3H11V5H12V8H11V10H10V11H8V12H5V11H3V10H2V8H1V5H2V3H3V2H5Z" fill="#ff0"/></g>
<g transform="translate(259,343)"><path d="M5,0H8V1H10V2H11V3H12V5H13V8H12V10H11V11H10V12H8V13H5V12H3V11H2V10H1V8H0V5H1V3H2V2H3V1H5Z" fill="#000"/><path d="M5,1H8V2H10V3H11V5H12V8H11V10H10V11H8V12H5V11H3V10H2V8H1V5H2V3H3V2H5Z" fill="#ff0"/></g>
<g transform="translate(262,327)"><path d="M5,0H8V1H10V2H11V3H12V5H13V8H12V10H11V11H10V12H8V13H5V12H3V11H2V10H1V8H0V5H1V3H2V2H3V1H5Z" fill="#000"/><path d="M5,1H8V2H10V3H11V5H12V8H11V10H10V11H8V12H5V11H3V10H2V8H1V5H2V3H3V2H5Z" fill="#ff0"/></g>
<g transform="translate(265,343)"><path d="M5,0H8V1H10V2H11V3H12V5H13V8H12V10H11V11H10V12H8V13H5V12H3V11H2V10H1V8H0V5H1V3H2V2H3V1H5Z" fill="#000"/><path d="M5,1H8V2H10V3H11V5H12V8H11V10H10V11H8V12H5V11H3V10H2V8H1V5H2V3H3V2H5Z" fill="#ff0"/></g>
<g transform="translate(268,327)"><path d="M5,0H8V1H10V2H11V3H12V5H13V8H12V10H11V11H10V12H8V13H5V12H3V11H2V10H1V8H0V5H1V3H2V2H3V1H5Z" fill="#000"/><path d="M5,1H8V2H10V3H11V5H12V8H11V10H10V11H8V12H5V11H3V10H2V8H1V5H2V3H3V2H5Z" fill="#ff0"/></g>
<g transform="translate(271,359)"><path d="M5,0H8V1H10V2H11V3H12V5H13V8H12V10H11V11H10V12H8V13H5V12H3V11H2V10H1V8H0V5H1V3H2V2H3V1H5Z" fill="#000"/><path d="M5,1H8V2H10V3H11V5H12V8H11V10H10V11H8V12H5V11H3V10H2V8H1V5H2V3H3V2H5Z" fill="#ff0"/></g>
<g transform="translate(274,343)"><path d="M5,0H8V1H10V2H11V3H12V5H13V8H12V10H11V11H10V12H8V13H5V12H3V11H2V10H1V8H0V5H1V3H2V2H3V1H5Z" fill="#000"/><path d="M5,1H8V2H10V3H11V5H12V8H11V10H10V11H8V12H5V11H3V10H2V8H1V5H2V3H3V2H5Z" fill="#ff0"/></g>
<g transform="translate(278,359)"><path d="M5,0H8V1H10V2H11V3H12V5H13V8H12V10H11V11H10V12H8V13H5V12H3V11H2V10H1V8H0V5H1V3H2V2H3V1H5Z" fill="#000"/><path d="M5,1H8V2H10V3H11V5H12V8H11V10H10V11H8V12H5V11H3V10H2V8H1V5H2V3H3V2H5Z" fill="#ff0"/></g>
<g transform="translate(281,343)"><path d="M5,0H8V1H10V2H11V3H12V5H13V8H12V10H11V11H10V12H8V13H5V12H3V11H2V10H1V8H0V5H1V3H2V2H3V1H5Z" fill="#000"/><path d="M5,1H8V2H10V3H11V5H12V8H11V10H10V11H8V12H5V11H3V10H2V8H1V5H2V3H3V2H5Z" fill="#ff0"/></g>
<g transform="translate(284,343)"><path d="M5,0H8V1H10V2H11V3H12V5H13V8H12V10H11V11H10V12H8V13H5V12H3V11H2V10H1V8H0V5H1V3H2V2H3V1H5Z" fill="#000"/><path d="M5,1H8V2H10V3H11V5H12V8H11V10H10V11H8V12H5V11H3V10H2V8H1V5H2V3H3V2H5Z" fill="#ff0"/></g>
<g transform="translate(287,327)"><path d="M5,0H8V1H10V2H11V3H12V5H13V8H12V10H11V11H10V12H8V13H5V12H3V11H2V10H1V8H0V5H1V3H2V2H3V1H5Z" fill="#000"/><path d="M5,1H8V2H10V3H11V5H12V8H11V10H10V11H8V12H5V11H3V10H2V8H1V5H2V3H3V2H5Z" fill="#ff0"/></g>
<g transform="translate(290,327)"><path d="M5,0H8V1H10V2H11V3H12V5H13V8H12V10H11V11H10V12H8V13H5V12H3V11H2V10H1V8H0V5H1V3H2V2H3V1H5Z" fill="#000"/><path d="M5,1H8V2H10V3H11V5H12V8H11V10H10V11H8V12H5V11H3V10H2V8H1V5H2V3H3V2H5Z" fill="#ff0"/></g>
<g transform="translate(293,359)"><path d="M5,0H8V1H10V2H11V3H12V5H13V8H12V10H11V11H10V12H8V13H5V12H3V11H2V10H1V8H0V5H1V3H2V2H3V1H5Z" fill="#000"/><path d="M5,1H8V2H10V3H11V5H12V8H11V10H10V11H8V12H5V11H3V10H2V8H1V5H2V3H3V2H5Z" fill="#ff0"/></g>
<g transform="translate(297,327)"><path d="M5,0H8V1H10V2H11V3H12V5H13V8H12V10H11V11H10V12H8V13H5V12H3V11H2V10H1V8H0V5H1V3H2V2H3V1H5Z" fill="#000"/><path d="M5,1H8V2H10V3H11V5H12V8H11V10H10V11H8V12H5V11H3V10H2V8H1V5H2V3H3V2H5Z" fill="#ff0"/></g>
<g transform="translate(300,327)"><path d="M5,0H8V1H10V2H11V3H12V5H13V8H12V10H11V11H10V12H8V13H5V12H3V11H2V10H1V8H0V5H1V3H2V2H3V1H5Z" fill="#000"/><path d="M5,1H8V2H10V3H11V5H12V8H11V10H10V11H8V12H5V11H3V10H2V8H1V5H2V3H3V2H5Z" fill="#ff0"/></g>
<g transform="translate(303,359)"><path d="M5,0H8V1H10V2H11V3H12V5H13V8H12V10H11V11H10V12H8V13H5V12H3V11H2V10H1V8H0V5H1V3H2V2H3V1H5Z" fill="#000"/><path d="M5,1H8V2H10V3H11V5H12V8H11V10H10V11H8V12H5V11H3V10H2V8H1V5H2V3H3V2H5Z" fill="#ff0"/></g>
<g transform="translate(306,343)"><path d="M5,0H8V1H10V2H11V3H12V5H13V8H12V10H11V11H10V12H8V13H5V12H3V11H2V10H1V8H0V5H1V3H2V2H3V1H5Z" fill="#000"/><path d="M5,1H8V2H10V3H11V5H12V8H11V10H10V11H8V12H5V11H3V10H2V8H1V5H2V3H3V2H5Z" fill="#ff0"/></g>
<g transform="translate(309,327)"><path d="M5,0H8V1H10V2H11V3H12V5H13V8H12V10H11V11H10V12H8V13H5V12H3V11H2V10H1V8H0V5H1V3H2V2H3V1H5Z" fill="#000"/><path d="M5,1H8V2H10V3H11V5H12V8H11V10H10V11H8V12H5V11H3V10H2V8H1V5H2V3H3V2H5Z" fill="#ff0"/></g>
<g transform="translate(312,327)"><path d="M5,0H8V1H10V2H11V3H12V5H13V8H12V10H11V11H10V12H8V13H5V12H3V11H2V10H1V8H0V5H1V3H2V2H3V1H5Z" fill="#000"/><path d="M5,1H8V2H10V3H11V5H12V8H11V10H10V11H8V12H5V11H3V10H2V8H1V5H2V3H3V2H5Z" fill="#ff0"/></g>
<g transform="translate(315,312)"><path d="M5,0H8V1H10V2H11V3H12V5H13V8H12V10H11V11H10V12H8V13H5V12H3V11H2V10H1V8H0V5H1V3H2V2H3V1H5Z" fill="#000"/><path d="M5,1H8V2H10V3H11V5H12V8H11V10H10V11H8V12H5V11H3V10H2V8H1V5H2V3H3V2H5Z" fill="#ff0"/></g>
<g transform="translate(319,312)"><path d="M5,0H8V1H10V2H11V3H12V5H13V8H12V10H11V11H10V12H8V13H5V12H3V11H2V10H1V8H0V5H1V3H2V2H3V1H5Z" fill="#000"/><path d="M5,1H8V2H10V3H11V5H12V8H11V10H10V11H8V12H5V11H3V10H2V8H1V5H2V3H3V2H5Z" fill="#ff0"/></g>
<g transform="translate(322,359)"><path d="M5,0H8V1H10V2H11V3H12V5H13V8H12V10H11V11H10V12H8V13H5V12H3V11H2V10H1V8H0V5H1V3H2V2H3V1H5Z" fill="#000"/><path d="M5,1H8V2H10V3H11V5H12V8H11V10H10V11H8V12H5V11H3V10H2V8H1V5H2V3H3V2H5Z" fill="#ff0"/></g>
<g transform="translate(325,327)"><path d="M5,0H8V1H10V2H11V3H12V5H13V8H12V10H11V11H10V12H8V13H5V12H3V11H2V10H1V8H0V5H1V3H2V2H3V1H5Z" fill="#000"/><path d="M5,1H8V2H10V3H11V5H12V8H11V10H10V11H8V12H5V11H3V10H2V8H1V5H2V3H3V2H5Z" fill="#ff0"/></g>
<g transform="translate(328,327)"><path d="M5,0H8V1H10V2H11V3H12V5H13V8H12V10H11V11H10V12H8V13H5V12H3V11H2V10H1V8H0V5H1V3H2V2H3V1H5Z" fill="#000"/><path d="M5,1H8V2H10V3H11V5H12V8H11V10H10V11H8V12H5V11H3V10H2V8H1V5H2V3H3V2H5Z" fill="#ff0"/></g>
<g transform="translate(331,390)"><path d="M5,0H8V1H10V2H11V3H12V5H13V8H12V10H11V11H10V12H8V13H5V12H3V11H2V10H1V8H0V5H1V3H2V2H3V1H5Z" fill="#000"/><path d="M5,1H8V2H10V3H11V5H12V8H11V10H10V11H8V12H5V11H3V10H2V8H1V5H2V3H3V2H5Z" fill="#ff0"/></g>
<g transform="translate(334,359)"><path d="M5,0H8V1H10V2H11V3H12V5H13V8H12V10H11V11H10V12H8V13H5V12H3V11H2V10H1V8H0V5H1V3H2V2H3V1H5Z" fill="#000"/><path d="M5,1H8V2H10V3H11V5H12V8H11V10H10V11H8V12H5V11H3V10H2V8H1V5H2V3H3V2H5Z" fill="#ff0"/></g>
<g transform="translate(338,327)"><path d="M5,0H8V1H10V2H11V3H12V5H13V8H12V10H11V11H10V12H8V13H5V12H3V11H2V10H1V8H0V5H1V3H2V2H3V1H5Z" fill="#000"/><path d="M5,1H8V2H10V3H11V5H12V8H11V10H10V11H8V12H5V11H3V10H2V8H1V5H2V3H3V2H5Z" fill="#ff0"/></g>
<g transform="translate(341,359)"><path d="M5,0H8V1H10V2H11V3H12V5H13V8H12V10H11V11H10V12H8V13H5V12H3V11H2V10H1V8H0V5H1V3H2V2H3V1H5Z" fill="#000"/><path d="M5,1H8V2H10V3H11V5H12V8H11V10H10V11H8V12H5V11H3V10H2V8H1V5H2V3H3V2H5Z" fill="#ff0"/></g>
<g transform="translate(344,405)"><path d="M5,0H8V1H10V2H11V3H12V5H13V8H12V10H11V11H10V12H8V13H5V12H3V11H2V10H1V8H0V5H1V3H2V2H3V1H5Z" fill="#000"/><path d="M5,1H8V2H10V3H11V5H12V8H11V10H10V11H8V12H5V11H3V10H2V8H1V5H2V3H3V2H5Z" fill="#ff0"/></g>
<g transform="translate(347,374)"><path d="M5,0H8V1H10V2H11V3H12V5H13V8H12V10H11V11H10V12H8V13H5V12H3V11H2V10H1V8H0V5H1V3H2V2H3V1H5Z" fill="#000"/><path d="M5,1H8V2H10V3H11V5H12V8H11V10H10V11H8V12H5V11H3V10H2V8H1V5H2V3H3V2H5Z" fill="#ff0"/></g>
<g transform="translate(350,327)"><path d="M5,0H8V1H10V2H11V3H12V5H13V8H12V10H11V11H10V12H8V13H5V12H3V11H2V10H1V8H0V5H1V3H2V2H3V1H5Z" fill="#000"/><path d="M5,1H8V2H10V3H11V5H12V8H11V10H10V11H8V12H5V11H3V10H2V8H1V5H2V3H3V2H5Z" fill="#ff0"/></g>
<g transform="translate(353,312)"><path d="M5,0H8V1H10V2H11V3H12V5H13V8H12V10H11V11H10V12H8V13H5V12H3V11H2V10H1V8H0V5H1V3H2V2H3V1H5Z" fill="#000"/><path d="M5,1H8V2H10V3H11V5H12V8H11V10H10V11H8V12H5V11H3V10H2V8H1V5H2V3H3V2H5Z" fill="#ff0"/></g>
<g transform="translate(356,327)"><path d="M5,0H8V1H10V2H11V3H12V5H13V8H12V10H11V11H10V12H8V13H5V12H3V11H2V10H1V8H0V5H1V3H2V2H3V1H5Z" fill="#000"/><path d="M5,1H8V2H10V3H11V5H12V8H11V10H10V11H8V12H5V11H3V10H2V8H1V5H2V3H3V2H5Z" fill="#ff0"/></g>
<g transform="translate(360,296)"><path d="M5,0H8V1H10V2H11V3H12V5H13V8H12V10H11V11H10V12H8V13H5V12H3V11H2V10H1V8H0V5H1V3H2V2H3V1H5Z" fill="#000"/><path d="M5,1H8V2H10V3H11V5H12V8H11V10H10V11H8V12H5V11H3V10H2V8H1V5H2V3H3V2H5Z" fill="#ff0"/></g>
<g transform="translate(363,359)"><path d="M5,0H8V1H10V2H11V3H12V5H13V8H12V10H11V11H10V12H8V13H5V12H3V11H2V10H1V8H0V5H1V3H2V2H3V1H5Z" fill="#000"/><path d="M5,1H8V2H10V3H11V5H12V8H11V10H10V11H8V12H5V11H3V10H2V8H1V5H2V3H3V2H5Z" fill="#ff0"/></g>
<g transform="translate(366,296)"><path d="M5,0H8V1H10V2H11V3H12V5H13V8H12V10H11V11H10V12H8V13H5V12H3V11H2V10H1V8H0V5H1V3H2V2H3V1H5Z" fill="#000"/><path d="M5,1H8V2H10V3H11V5H12V8H11V10H10V11H8V12H5V11H3V10H2V8H1V5H2V3H3V2H5Z" fill="#ff0"/></g>
<g transform="translate(369,312)"><path d="M5,0H8V1H10V2H11V3H12V5H13V8H12V10H11V11H10V12H8V13H5V12H3V11H2V10H1V8H0V5H1V3H2V2H3V1H5Z" fill="#000"/><path d="M5,1H8V2H10V3H11V5H12V8H11V10H10V11H8V12H5V11H3V10H2V8H1V5H2V3H3V2H5Z" fill="#ff0"/></g>
<g transform="translate(372,327)"><path d="M5,0H8V1H10V2H11V3H12V5H13V8H12V10H11V11H10V12H8V13H5V12H3V11H2V10H1V8H0V5H1V3H2V2H3V1H5Z" fill="#000"/><path d="M5,1H8V2H10V3H11V5H12V8H11V10H10V11H8V12H5V11H3V10H2V8H1V5H2V3H3V2H5Z" fill="#ff0"/></g>
<g transform="translate(375,327)"><path d="M5,0H8V1H10V2H11V3H12V5H13V8H12V10H11V11H10V12H8V13H5V12H3V11H2V10H1V8H0V5H1V3H2V2H3V1H5Z" fill="#000"/><path d="M5,1H8V2H10V3H11V5H12V8H11V10H10V11H8V12H5V11H3V10H2V8H1V5H2V3H3V2H5Z" fill="#ff0"/></g>
<g transform="translate(379,327)"><path d="M5,0H8V1H10V2H11V3H12V5H13V8H12V10H11V11H10V12H8V13H5V12H3V11H2V10H1V8H0V5H1V3H2V2H3V1H5Z" fill="#000"/><path d="M5,1H8V2H10V3H11V5H12V8H11V10H10V11H8V12H5V11H3V10H2V8H1V5H2V3H3V2H5Z" fill="#ff0"/></g>
<g transform="translate(382,327)"><path d="M5,0H8V1H10V2H11V3H12V5H13V8H12V10H11V11H10V12H8V13H5V12H3V11H2V10H1V8H0V5H1V3H2V2H3V1H5Z" fill="#000"/><path d="M5,1H8V2H10V3H11V5H12V8H11V10H10V11H8V12H5V11H3V10H2V8H1V5H2V3H3V2H5Z" fill="#ff0"/></g>
<g transform="translate(385,296)"><path d="M5,0H8V1H10V2H11V3H12V5H13V8H12V10H11V11H10V12H8V13H5V12H3V11H2V10H1V8H0V5H1V3H2V2H3V1H5Z" fill="#000"/><path d="M5,1H8V2H10V3H11V5H12V8H11V10H10V11H8V12H5V11H3V10H2V8H1V5H2V3H3V2H5Z" fill="#ff0"/></g>
<g transform="translate(388,296)"><path d="M5,0H8V1H10V2H11V3H12V5H13V8H12V10H11V11H10V12H8V13H5V12H3V11H2V10H1V8H0V5H1V3H2V2H3V1H5Z" fill="#000"/><path d="M5,1H8V2H10V3H11V5H12V8H11V10H10V11H8V12H5V11H3V10H2V8H1V5H2V3H3V2H5Z" fill="#ff0"/></g>
<g transform="translate(391,312)"><path d="M5,0H8V1H10V2H11V3H12V5H13V8H12V10H11V11H10V12H8V13H5V12H3V11H2V10H1V8H0V5H1V3H2V2H3V1H5Z" fill="#000"/><path d="M5,1H8V2H10V3H11V5H12V8H11V10H10V11H8V12H5V11H3V10H2V8H1V5H2V3H3V2H5Z" fill="#ff0"/></g>
<g transform="translate(394,327)"><path d="M5,0H8V1H10V2H11V3H12V5H13V8H12V10H11V11H10V12H8V13H5V12H3V11H2V10H1V8H0V5H1V3H2V2H3V1H5Z" fill="#000"/><path d="M5,1H8V2H10V3H11V5H12V8H11V10H10V11H8V12H5V11H3V10H2V8H1V5H2V3H3V2H5Z" fill="#ff0"/></g>
<g transform="translate(398,343)"><path d="M5,0H8V1H10V2H11V3H12V5H13V8H12V10H11V11H10V12H8V13H5V12H3V11H2V10H1V8H0V5H1V3H2V2H3V1H5Z" fill="#000"/><path d="M5,1H8V2H10V3H11V5H12V8H11V10H10V11H8V12H5V11H3V10H2V8H1V5H2V3H3V2H5Z" fill="#ff0"/></g>
<g transform="translate(401,343)"><path d="M5,0H8V1H10V2H11V3H12V5H13V8H12V10H11V11H10V12H8V13H5V12H3V11H2V10H1V8H0V5H1V3H2V2H3V1H5Z" fill="#000"/><path d="M5,1H8V2H10V3H11V5H12V8H11V10H10V11H8V12H5V11H3V10H2V8H1V5H2V3H3V2H5Z" fill="#ff0"/></g>
<g transform="translate(404,343)"><path d="M5,0H8V1H10V2H11V3H12V5H13V8H12V10H11V11H10V12H8V13H5V12H3V11H2V10H1V8H0V5H1V3H2V2H3V1H5Z" fill="#000"/><path d="M5,1H8V2H10V3H11V5H12V8H11V10H10V11H8V12H5V11H3V10H2V8H1V5H2V3H3V2H5Z" fill="#ff0"/></g>
<g transform="translate(407,327)"><path d="M5,0H8V1H10V2H11V3H12V5H13V8H12V10H11V11H10V12H8V13H5V12H3V11H2V10H1V8H0V5H1V3H2V2H3V1H5Z" fill="#000"/><path d="M5,1H8V2H10V3H11V5H12V8H11V10H10V11H8V12H5V11H3V10H2V8H1V5H2V3H3V2H5Z" fill="#ff0"/></g>
<g transform="translate(410,359)"><path d="M5,0H8V1H10V2H11V3H12V5H13V8H12V10H11V11H10V12H8V13H5V12H3V11H2V10H1V8H0V5H1V3H2V2H3V1H5Z" fill="#000"/><path d="M5,1H8V2H10V3H11V5H12V8H11V10H10V11H8V12H5V11H3V10H2V8H1V5H2V3H3V2H5Z" fill="#ff0"/></g>
<g transform="translate(413,359)"><path d="M5,0H8V1H10V2H11V3H12V5H13V8H12V10H11V11H10V12H8V13H5V12H3V11H2V10H1V8H0V5H1V3H2V2H3V1H5Z" fill="#000"/><path d="M5,1H8V2H10V3H11V5H12V8H11V10H10V11H8V12H5V11H3V10H2V8H1V5H2V3H3V2H5Z" fill="#ff0"/></g>
<g transform="translate(416,343)"><path d="M5,0H8V1H10V2H11V3H12V5H13V8H12V10H11V11H10V12H8V13H5V12H3V11H2V10H1V8H0V5H1V3H2V2H3V1H5Z" fill="#000"/><path d="M5,1H8V2H10V3H11V5H12V8H11V10H10V11H8V12H5V11H3V10H2V8H1V5H2V3H3V2H5Z" fill="#ff0"/></g>
<g transform="translate(420,343)"><path d="M5,0H8V1H10V2H11V3H12V5H13V8H12V10H11V11H10V12H8V13H5V12H3V11H2V10H1V8H0V5H1V3H2V2H3V1H5Z" fill="#000"/><path d="M5,1H8V2H10V3H11V5H12V8H11V10H10V11H8V12H5V11H3V10H2V8H1V5H2V3H3V2H5Z" fill="#ff0"/></g>
<g transform="translate(423,343)"><path d="M5,0H8V1H10V2H11V3H12V5H13V8H12V10H11V11H10V12H8V13H5V12H3V11H2V10H1V8H0V5H1V3H2V2H3V1H5Z" fill="#000"/><path d="M5,1H8V2H10V3H11V5H12V8H11V10H10V11H8V12H5V11H3V10H2V8H1V5H2V3H3V2H5Z" fill="#ff0"/></g>
<g transform="translate(426,343)"><path d="M5,0H8V1H10V2H11V3H12V5H13V8H12V10H11V11H10V12H8V13H5V12H3V11H2V10H1V8H0V5H1V3H2V2H3V1H5Z" fill="#000"/><path d="M5,1H8V2H10V3H11V5H12V8H11V10H10V11H8V12H5V11H3V10H2V8H1V5H2V3H3V2H5Z" fill="#ff0"/></g>
<g transform="translate(429,343)"><path d="M5,0H8V1H10V2H11V3H12V5H13V8H12V10H11V11H10V12H8V13H5V12H3V11H2V10H1V8H0V5H1V3H2V2H3V1H5Z" fill="#000"/><path d="M5,1H8V2H10V3H11V5H12V8H11V10H10V11H8V12H5V11H3V10H2V8H1V5H2V3H3V2H5Z" fill="#ff0"/></g>
<g transform="translate(432,343)"><path d="M5,0H8V1H10V2H11V3H12V5H13V8H12V10H11V11H10V12H8V13H5V12H3V11H2V10H1V8H0V5H1V3H2V2H3V1H5Z" fill="#000"/><path d="M5,1H8V2H10V3H11V5H12V8H11V10H10V11H8V12H5V11H3V10H2V8H1V5H2V3H3V2H5Z" fill="#ff0"/></g>
<g transform="translate(435,343)"><path d="M5,0H8V1H10V2H11V3H12V5H13V8H12V10H11V11H10V12H8V13H5V12H3V11H2V10H1V8H0V5H1V3H2V2H3V1H5Z" fill="#000"/><path d="M5,1H8V2H10V3H11V5H12V8H11V10H10V11H8V12H5V11H3V10H2V8H1V5H2V3H3V2H5Z" fill="#ff0"/></g>
<g transform="translate(439,343)"><path d="M5,0H8V1H10V2H11V3H12V5H13V8H12V10H11V11H10V12H8V13H5V12H3V11H2V10H1V8H0V5H1V3H2V2H3V1H5Z" fill="#000"/><path d="M5,1H8V2H10V3H11V5H12V8H11V10H10V11H8V12H5V11H3V10H2V8H1V5H2V3H3V2H5Z" fill="#ff0"/></g>
<g transform="translate(442,343)"><path d="M5,0H8V1H10V2H11V3H12V5H13V8H12V10H11V11H10V12H8V13H5V12H3V11H2V10H1V8H0V5H1V3H2V2H3V1H5Z" fill="#000"/><path d="M5,1H8V2H10V3H11V5H12V8H11V10H10V11H8V12H5V11H3V10H2V8H1V5H2V3H3V2H5Z" fill="#ff0"/></g>
<g transform="translate(445,374)"><path d="M5,0H8V1H10V2H11V3H12V5H13V8H12V10H11V11H10V12H8V13H5V12H3V11H2V10H1V8H0V5H1V3H2V2H3V1H5Z" fill="#000"/><path d="M5,1H8V2H10V3H11V5H12V8H11V10H10V11H8V12H5V11H3V10H2V8H1V5H2V3H3V2H5Z" fill="#ff0"/></g>
<g transform="translate(448,343)"><path d="M5,0H8V1H10V2H11V3H12V5H13V8H12V10H11V11H10V12H8V13H5V12H3V11H2V10H1V8H0V5H1V3H2V2H3V1H5Z" fill="#000"/><path d="M5,1H8V2H10V3H11V5H12V8H11V10H10V11H8V12H5V11H3V10H2V8H1V5H2V3H3V2H5Z" fill="#ff0"/></g>
<g transform="translate(451,327)"><path d="M5,0H8V1H10V2H11V3H12V5H13V8H12V10H11V11H10V12H8V13H5V12H3V11H2V10H1V8H0V5H1V3H2V2H3V1H5Z" fill="#000"/><path d="M5,1H8V2H10V3H11V5H12V8H11V10H10V11H8V12H5V11H3V10H2V8H1V5H2V3H3V2H5Z" fill="#ff0"/></g>
<g transform="translate(454,327)"><path d="M5,0H8V1H10V2H11V3H12V5H13V8H12V10H11V11H10V12H8V13H5V12H3V11H2V10H1V8H0V5H1V3H2V2H3V1H5Z" fill="#000"/><path d="M5,1H8V2H10V3H11V5H12V8H11V10H10V11H8V12H5V11H3V10H2V8H1V5H2V3H3V2H5Z" fill="#ff0"/></g>
<g transform="translate(457,343)"><path d="M5,0H8V1H10V2H11V3H12V5H13V8H12V10H11V11H10V12H8V13H5V12H3V11H2V10H1V8H0V5H1V3H2V2H3V1H5Z" fill="#000"/><path d="M5,1H8V2H10V3H11V5H12V8H11V10H10V11H8V12H5V11H3V10H2V8H1V5H2V3H3V2H5Z" fill="#ff0"/></g>
<g transform="translate(461,359)"><path d="M5,0H8V1H10V2H11V3H12V5H13V8H12V10H11V11H10V12H8V13H5V12H3V11H2V10H1V8H0V5H1V3H2V2H3V1H5Z" fill="#000"/><path d="M5,1H8V2H10V3H11V5H12V8H11V10H10V11H8V12H5V11H3V10H2V8H1V5H2V3H3V2H5Z" fill="#ff0"/></g>
<g transform="translate(464,343)"><path d="M5,0H8V1H10V2H11V3H12V5H13V8H12V10H11V11H10V12H8V13H5V12H3V11H2V10H1V8H0V5H1V3H2V2H3V1H5Z" fill="#000"/><path d="M5,1H8V2H10V3H11V5H12V8H11V10H10V11H8V12H5V11H3V10H2V8H1V5H2V3H3V2H5Z" fill="#ff0"/></g>
<g transform="translate(467,374)"><path d="M5,0H8V1H10V2H11V3H12V5H13V8H12V10H11V11H10V12H8V13H5V12H3V11H2V10H1V8H0V5H1V3H2V2H3V1H5Z" fill="#000"/><path d="M5,1H8V2H10V3H11V5H12V8H11V10H10V11H8V12H5V11H3V10H2V8H1V5H2V3H3V2H5Z" fill="#ff0"/></g>
<g transform="translate(470,359)"><path d="M5,0H8V1H10V2H11V3H12V5H13V8H12V10H11V11H10V12H8V13H5V12H3V11H2V10H1V8H0V5H1V3H2V2H3V1H5Z" fill="#000"/><path d="M5,1H8V2H10V3H11V5H12V8H11V10H10V11H8V12H5V11H3V10H2V8H1V5H2V3H3V2H5Z" fill="#ff0"/></g>
<g transform="translate(473,359)"><path d="M5,0H8V1H10V2H11V3H12V5H13V8H12V10H11V11H10V12H8V13H5V12H3V11H2V10H1V8H0V5H1V3H2V2H3V1H5Z" fill="#000"/><path d="M5,1H8V2H10V3H11V5H12V8H11V10H10V11H8V12H5V11H3V10H2V8H1V5H2V3H3V2H5Z" fill="#ff0"/></g>
<g transform="translate(476,359)"><path d="M5,0H8V1H10V2H11V3H12V5H13V8H12V10H11V11H10V12H8V13H5V12H3V11H2V10H1V8H0V5H1V3H2V2H3V1H5Z" fill="#000"/><path d="M5,1H8V2H10V3H11V5H12V8H11V10H10V11H8V12H5V11H3V10H2V8H1V5H2V3H3V2H5Z" fill="#ff0"/></g>
<g transform="translate(480,343)"><path d="M5,0H8V1H10V2H11V3H12V5H13V8H12V10H11V11H10V12H8V13H5V12H3V11H2V10H1V8H0V5H1V3H2V2H3V1H5Z" fill="#000"/><path d="M5,1H8V2H10V3H11V5H12V8H11V10H10V11H8V12H5V11H3V10H2V8H1V5H2V3H3V2H5Z" fill="#ff0"/></g>
<g transform="translate(483,359)"><path d="M5,0H8V1H10V2H11V3H12V5H13V8H12V10H11V11H10V12H8V13H5V12H3V11H2V10H1V8H0V5H1V3H2V2H3V1H5Z" fill="#000"/><path d="M5,1H8V2H10V3H11V5H12V8H11V10H10V11H8V12H5V11H3V10H2V8H1V5H2V3H3V2H5Z" fill="#ff0"/></g>
<g transform="translate(486,359)"><path d="M5,0H8V1H10V2H11V3H12V5H13V8H12V10H11V11H10V12H8V13H5V12H3V11H2V10H1V8H0V5H1V3H2V2H3V1H5Z" fill="#000"/><path d="M5,1H8V2H10V3H11V5H12V8H11V10H10V11H8V12H5V11H3V10H2V8H1V5H2V3H3V2H5Z" fill="#ff0"/></g>
<g transform="translate(489,359)"><path d="M5,0H8V1H10V2H11V3H12V5H13V8H12V10H11V11H10V12H8V13H5V12H3V11H2V10H1V8H0V5H1V3H2V2H3V1H5Z" fill="#000"/><path d="M5,1H8V2H10V3H11V5H12V8H11V10H10V11H8V12H5V11H3V10H2V8H1V5H2V3H3V2H5Z" fill="#ff0"/></g>
<g transform="translate(492,343)"><path d="M5,0H8V1H10V2H11V3H12V5H13V8H12V10H11V11H10V12H8V13H5V12H3V11H2V10H1V8H0V5H1V3H2V2H3V1H5Z" fill="#000"/><path d="M5,1H8V2H10V3H11V5H12V8H11V10H10V11H8V12H5V11H3V10H2V8H1V5H2V3H3V2H5Z" fill="#ff0"/></g>
<g transform="translate(495,359)"><path d="M5,0H8V1H10V2H11V3H12V5H13V8H12V10H11V11H10V12H8V13H5V12H3V11H2V10H1V8H0V5H1V3H2V2H3V1H5Z" fill="#000"/><path d="M5,1H8V2H10V3H11V5H12V8H11V10H10V11H8V12H5V11H3V10H2V8H1V5H2V3H3V2H5Z" fill="#ff0"/></g>
<g transform="translate(499,327)"><path d="M5,0H8V1H10V2H11V3H12V5H13V8H12V10H11V11H10V12H8V13H5V12H3V11H2V10H1V8H0V5H1V3H2V2H3V1H5Z" fill="#000"/><path d="M5,1H8V2H10V3H11V5H12V8H11V10H10V11H8V12H5V11H3V10H2V8H1V5H2V3H3V2H5Z" fill="#ff0"/></g>
<g transform="translate(502,359)"><path d="M5,0H8V1H10V2H11V3H12V5H13V8H12V10H11V11H10V12H8V13H5V12H3V11H2V10H1V8H0V5H1V3H2V2H3V1H5Z" fill="#000"/><path d="M5,1H8V2H10V3H11V5H12V8H11V10H10V11H8V12H5V11H3V10H2V8H1V5H2V3H3V2H5Z" fill="#ff0"/></g>
<g transform="translate(505,359)"><path d="M5,0H8V1H10V2H11V3H12V5H13V8H12V10H11V11H10V12H8V13H5V12H3V11H2V10H1V8H0V5H1V3H2V2H3V1H5Z" fill="#000"/><path d="M5,1H8V2H10V3H11V5H12V8H11V10H10V11H8V12H5V11H3V10H2V8H1V5H2V3H3V2H5Z" fill="#ff0"/></g>
<g transform="translate(508,343)"><path d="M5,0H8V1H10V2H11V3H12V5H13V8H12V10H11V11H10V12H8V13H5V12H3V11H2V10H1V8H0V5H1V3H2V2H3V1H5Z" fill="#000"/><path d="M5,1H8V2H10V3H11V5H12V8H11V10H10V11H8V12H5V11H3V10H2V8H1V5H2V3H3V2H5Z" fill="#ff0"/></g>
<g transform="translate(511,327)"><path d="M5,0H8V1H10V2H11V3H12V5H13V8H12V10H11V11H10V12H8V13H5V12H3V11H2V10H1V8H0V5H1V3H2V2H3V1H5Z" fill="#000"/><path d="M5,1H8V2H10V3H11V5H12V8H11V10H10V11H8V12H5V11H3V10H2V8H1V5H2V3H3V2H5Z" fill="#ff0"/></g>
<g transform="translate(514,343)"><path d="M5,0H8V1H10V2H11V3H12V5H13V8H12V10H11V11H10V12H8V13H5V12H3V11H2V10H1V8H0V5H1V3H2V2H3V1H5Z" fill="#000"/><path d="M5,1H8V2H10V3H11V5H12V8H11V10H10V11H8V12H5V11H3V10H2V8H1V5H2V3H3V2H5Z" fill="#ff0"/></g>
<g transform="translate(517,343)"><path d="M5,0H8V1H10V2H11V3H12V5H13V8H12V10H11V11H10V12H8V13H5V12H3V11H2V10H1V8H0V5H1V3H2V2H3V1H5Z" fill="#000"/><path d="M5,1H8V2H10V3H11V5H12V8H11V10H10V11H8V12H5V11H3V10H2V8H1V5H2V3H3V2H5Z" fill="#ff0"/></g>
<g transform="translate(521,312)"><path d="M5,0H8V1H10V2H11V3H12V5H13V8H12V10H11V11H10V12H8V13H5V12H3V11H2V10H1V8H0V5H1V3H2V2H3V1H5Z" fill="#000"/><path d="M5,1H8V2H10V3H11V5H12V8H11V10H10V11H8V12H5V11H3V10H2V8H1V5H2V3H3V2H5Z" fill="#ff0"/></g>
<g transform="translate(524,343)"><path d="M5,0H8V1H10V2H11V3H12V5H13V8H12V10H11V11H10V12H8V13H5V12H3V11H2V10H1V8H0V5H1V3H2V2H3V1H5Z" fill="#000"/><path d="M5,1H8V2H10V3H11V5H12V8H11V10H10V11H8V12H5V11H3V10H2V8H1V5H2V3H3V2H5Z" fill="#ff0"/></g>
<g transform="translate(527,343)"><path d="M5,0H8V1H10V2H11V3H12V5H13V8H12V10H11V11H10V12H8V13H5V12H3V11H2V10H1V8H0V5H1V3H2V2H3V1H5Z" fill="#000"/><path d="M5,1H8V2H10V3H11V5H12V8H11V10H10V11H8V12H5V11H3V10H2V8H1V5H2V3H3V2H5Z" fill="#ff0"/></g>
<g transform="translate(530,343)"><path d="M5,0H8V1H10V2H11V3H12V5H13V8H12V10H11V11H10V12H8V13H5V12H3V11H2V10H1V8H0V5H1V3H2V2H3V1H5Z" fill="#000"/><path d="M5,1H8V2H10V3H11V5H12V8H11V10H10V11H8V12H5V11H3V10H2V8H1V5H2V3H3V2H5Z" fill="#ff0"/></g>
<g transform="translate(533,296)"><path d="M5,0H8V1H10V2H11V3H12V5H13V8H12V10H11V11H10V12H8V13H5V12H3V11H2V10H1V8H0V5H1V3H2V2H3V1H5Z" fill="#000"/><path d="M5,1H8V2H10V3H11V5H12V8H11V10H10V11H8V12H5V11H3V10H2V8H1V5H2V3H3V2H5Z" fill="#ff0"/></g>
<g transform="translate(536,327)"><path d="M5,0H8V1H10V2H11V3H12V5H13V8H12V10H11V11H10V12H8V13H5V12H3V11H2V10H1V8H0V5H1V3H2V2H3V1H5Z" fill="#000"/><path d="M5,1H8V2H10V3H11V5H12V8H11V10H10V11H8V12H5V11H3V10H2V8H1V5H2V3H3V2H5Z" fill="#ff0"/></g>
<g transform="translate(540,280)"><path d="M5,0H8V1H10V2H11V3H12V5H13V8H12V10H11V11H10V12H8V13H5V12H3V11H2V10H1V8H0V5H1V3H2V2H3V1H5Z" fill="#000"/><path d="M5,1H8V2H10V3H11V5H12V8H11V10H10V11H8V12H5V11H3V10H2V8H1V5H2V3H3V2H5Z" fill="#ff0"/></g>
<g transform="translate(543,327)"><path d="M5,0H8V1H10V2H11V3H12V5H13V8H12V10H11V11H10V12H8V13H5V12H3V11H2V10H1V8H0V5H1V3H2V2H3V1H5Z" fill="#000"/><path d="M5,1H8V2H10V3H11V5H12V8H11V10H10V11H8V12H5V11H3V10H2V8H1V5H2V3H3V2H5Z" fill="#ff0"/></g>
<g transform="translate(546,312)"><path d="M5,0H8V1H10V2H11V3H12V5H13V8H12V10H11V11H10V12H8V13H5V12H3V11H2V10H1V8H0V5H1V3H2V2H3V1H5Z" fill="#000"/><path d="M5,1H8V2H10V3H11V5H12V8H11V10H10V11H8V12H5V11H3V10H2V8H1V5H2V3H3V2H5Z" fill="#ff0"/></g>
<g transform="translate(549,327)"><path d="M5,0H8V1H10V2H11V3H12V5H13V8H12V10H11V11H10V12H8V13H5V12H3V11H2V10H1V8H0V5H1V3H2V2H3V1H5Z" fill="#000"/><path d="M5,1H8V2H10V3H11V5H12V8H11V10H10V11H8V12H5V11H3V10H2V8H1V5H2V3H3V2H5Z" fill="#ff0"/></g>
<g transform="translate(552,327)"><path d="M5,0H8V1H10V2H11V3H12V5H13V8H12V10H11V11H10V12H8V13H5V12H3V11H2V10H1V8H0V5H1V3H2V2H3V1H5Z" fill="#000"/><path d="M5,1H8V2H10V3H11V5H12V8H11V10H10V11H8V12H5V11H3V10H2V8H1V5H2V3H3V2H5Z" fill="#ff0"/></g>
<g transform="translate(555,374)"><path d="M5,0H8V1H10V2H11V3H12V5H13V8H12V10H11V11H10V12H8V13H5V12H3V11H2V10H1V8H0V5H1V3H2V2H3V1H5Z" fill="#000"/><path d="M5,1H8V2H10V3H11V5H12V8H11V10H10V11H8V12H5V11H3V10H2V8H1V5H2V3H3V2H5Z" fill="#ff0"/></g>
<g transform="translate(558,312)"><path d="M5,0H8V1H10V2H11V3H12V5H13V8H12V10H11V11H10V12H8V13H5V12H3V11H2V10H1V8H0V5H1V3H2V2H3V1H5Z" fill="#000"/><path d="M5,1H8V2H10V3H11V5H12V8H11V10H10V11H8V12H5V11H3V10H2V8H1V5H2V3H3V2H5Z" fill="#ff0"/></g>
<g transform="translate(562,374)"><path d="M5,0H8V1H10V2H11V3H12V5H13V8H12V10H11V11H10V12H8V13H5V12H3V11H2V10H1V8H0V5H1V3H2V2H3V1H5Z" fill="#000"/><path d="M5,1H8V2H10V3H11V5H12V8H11V10H10V11H8V12H5V11H3V10H2V8H1V5H2V3H3V2H5Z" fill="#ff0"/></g>
<g transform="translate(565,343)"><path d="M5,0H8V1H10V2H11V3H12V5H13V8H12V10H11V11H10V12H8V13H5V12H3V11H2V10H1V8H0V5H1V3H2V2H3V1H5Z" fill="#000"/><path d="M5,1H8V2H10V3H11V5H12V8H11V10H10V11H8V12H5V11H3V10H2V8H1V5H2V3H3V2H5Z" fill="#ff0"/></g>
<g transform="translate(568,359)"><path d="M5,0H8V1H10V2H11V3H12V5H13V8H12V10H11V11H10V12H8V13H5V12H3V11H2V10H1V8H0V5H1V3H2V2H3V1H5Z" fill="#000"/><path d="M5,1H8V2H10V3H11V5H12V8H11V10H10V11H8V12H5V11H3V10H2V8H1V5H2V3H3V2H5Z" fill="#ff0"/></g>
<g transform="translate(571,312)"><path d="M5,0H8V1H10V2H11V3H12V5H13V8H12V10H11V11H10V12H8V13H5V12H3V11H2V10H1V8H0V5H1V3H2V2H3V1H5Z" fill="#000"/><path d="M5,1H8V2H10V3H11V5H12V8H11V10H10V11H8V12H5V11H3V10H2V8H1V5H2V3H3V2H5Z" fill="#ff0"/></g>
<g transform="translate(574,312)"><path d="M5,0H8V1H10V2H11V3H12V5H13V8H12V10H11V11H10V12H8V13H5V12H3V11H2V10H1V8H0V5H1V3H2V2H3V1H5Z" fill="#000"/><path d="M5,1H8V2H10V3H11V5H12V8H11V10H10V11H8V12H5V11H3V10H2V8H1V5H2V3H3V2H5Z" fill="#ff0"/></g>
<g transform="translate(577,296)"><path d="M5,0H8V1H10V2H11V3H12V5H13V8H12V10H11V11H10V12H8V13H5V12H3V11H2V10H1V8H0V5H1V3H2V2H3V1H5Z" fill="#000"/><path d="M5,1H8V2H10V3H11V5H12V8H11V10H10V11H8V12H5V11H3V10H2V8H1V5H2V3H3V2H5Z" fill="#ff0"/></g>
<g transform="translate(581,343)"><path d="M5,0H8V1H10V2H11V3H12V5H13V8H12V10H11V11H10V12H8V13H5V12H3V11H2V10H1V8H0V5H1V3H2V2H3V1H5Z" fill="#000"/><path d="M5,1H8V2H10V3H11V5H12V8H11V10H10V11H8V12H5V11H3V10H2V8H1V5H2V3H3V2H5Z" fill="#ff0"/></g>
<g transform="translate(584,312)"><path d="M5,0H8V1H10V2H11V3H12V5H13V8H12V10H11V11H10V12H8V13H5V12H3V11H2V10H1V8H0V5H1V3H2V2H3V1H5Z" fill="#000"/><path d="M5,1H8V2H10V3H11V5H12V8H11V10H10V11H8V12H5V11H3V10H2V8H1V5H2V3H3V2H5Z" fill="#ff0"/></g>
<g transform="translate(587,312)"><path d="M5,0H8V1H10V2H11V3H12V5H13V8H12V10H11V11H10V12H8V13H5V12H3V11H2V10H1V8H0V5H1V3H2V2H3V1H5Z" fill="#000"/><path d="M5,1H8V2H10V3H11V5H12V8H11V10H10V11H8V12H5V11H3V10H2V8H1V5H2V3H3V2H5Z" fill="#ff0"/></g>
<g transform="translate(590,312)"><path d="M5,0H8V1H10V2H11V3H12V5H13V8H12V10H11V11H10V12H8V13H5V12H3V11H2V10H1V8H0V5H1V3H2V2H3V1H5Z" fill="#000"/><path d="M5,1H8V2H10V3H11V5H12V8H11V10H10V11H8V12H5V11H3V10H2V8H1V5H2V3H3V2H5Z" fill="#ff0"/></g>
<g transform="translate(593,359)"><path d="M5,0H8V1H10V2H11V3H12V5H13V8H12V10H11V11H10V12H8V13H5V12H3V11H2V10H1V8H0V5H1V3H2V2H3V1H5Z" fill="#000"/><path d="M5,1H8V2H10V3H11V5H12V8H11V10H10V11H8V12H5V11H3V10H2V8H1V5H2V3H3V2H5Z" fill="#ff0"/></g>
<g transform="translate(596,296)"><path d="M5,0H8V1H10V2H11V3H12V5H13V8H12V10H11V11H10V12H8V13H5V12H3V11H2V10H1V8H0V5H1V3H2V2H3V1H5Z" fill="#000"/><path d="M5,1H8V2H10V3H11V5H12V8H11V10H10V11H8V12H5V11H3V10H2V8H1V5H2V3H3V2H5Z" fill="#ff0"/></g>
<g transform="translate(599,343)"><path d="M5,0H8V1H10V2H11V3H12V5H13V8H12V10H11V11H10V12H8V13H5V12H3V11H2V10H1V8H0V5H1V3H2V2H3V1H5Z" fill="#000"/><path d="M5,1H8V2H10V3H11V5H12V8H11V10H10V11H8V12H5V11H3V10H2V8H1V5H2V3H3V2H5Z" fill="#ff0"/></g>
<g transform="translate(603,374)"><path d="M5,0H8V1H10V2H11V3H12V5H13V8H12V10H11V11H10V12H8V13H5V12H3V11H2V10H1V8H0V5H1V3H2V2H3V1H5Z" fill="#000"/><path d="M5,1H8V2H10V3H11V5H12V8H11V10H10V11H8V12H5V11H3V10H2V8H1V5H2V3H3V2H5Z" fill="#ff0"/></g>
<g transform="translate(606,312)"><path d="M5,0H8V1H10V2H11V3H12V5H13V8H12V10H11V11H10V12H8V13H5V12H3V11H2V10H1V8H0V5H1V3H2V2H3V1H5Z" fill="#000"/><path d="M5,1H8V2H10V3H11V5H12V8H11V10H10V11H8V12H5V11H3V10H2V8H1V5H2V3H3V2H5Z" fill="#ff0"/></g>
<g transform="translate(609,312)"><path d="M5,0H8V1H10V2H11V3H12V5H13V8H12V10H11V11H10V12H8V13H5V12H3V11H2V10H1V8H0V5H1V3H2V2H3V1H5Z" fill="#000"/><path d="M5,1H8V2H10V3H11V5H12V8H11V10H10V11H8V12H5V11H3V10H2V8H1V5H2V3H3V2H5Z" fill="#ff0"/></g>
<g transform="translate(612,343)"><path d="M5,0H8V1H10V2H11V3H12V5H13V8H12V10H11V11H10V12H8V13H5V12H3V11H2V10H1V8H0V5H1V3H2V2H3V1H5Z" fill="#000"/><path d="M5,1H8V2H10V3H11V5H12V8H11V10H10V11H8V12H5V11H3V10H2V8H1V5H2V3H3V2H5Z" fill="#ff0"/></g>
<g transform="translate(615,312)"><path d="M5,0H8V1H10V2H11V3H12V5H13V8H12V10H11V11H10V12H8V13H5V12H3V11H2V10H1V8H0V5H1V3H2V2H3V1H5Z" fill="#000"/><path d="M5,1H8V2H10V3H11V5H12V8H11V10H10V11H8V12H5V11H3V10H2V8H1V5H2V3H3V2H5Z" fill="#ff0"/></g>
<g transform="translate(618,327)"><path d="M5,0H8V1H10V2H11V3H12V5H13V8H12V10H11V11H10V12H8V13H5V12H3V11H2V10H1V8H0V5H1V3H2V2H3V1H5Z" fill="#000"/><path d="M5,1H8V2H10V3H11V5H12V8H11V10H10V11H8V12H5V11H3V10H2V8H1V5H2V3H3V2H5Z" fill="#ff0"/></g>
<g transform="translate(622,343)"><path d="M5,0H8V1H10V2H11V3H12V5H13V8H12V10H11V11H10V12H8V13H5V12H3V11H2V10H1V8H0V5H1V3H2V2H3V1H5Z" fill="#000"/><path d="M5,1H8V2H10V3H11V5H12V8H11V10H10V11H8V12H5V11H3V10H2V8H1V5H2V3H3V2H5Z" fill="#ff0"/></g>
<g transform="translate(625,312)"><path d="M5,0H8V1H10V2H11V3H12V5H13V8H12V10H11V11H10V12H8V13H5V12H3V11H2V10H1V8H0V5H1V3H2V2H3V1H5Z" fill="#000"/><path d="M5,1H8V2H10V3H11V5H12V8H11V10H10V11H8V12H5V11H3V10H2V8H1V5H2V3H3V2H5Z" fill="#ff0"/></g>
<g transform="translate(628,343)"><path d="M5,0H8V1H10V2H11V3H12V5H13V8H12V10H11V11H10V12H8V13H5V12H3V11H2V10H1V8H0V5H1V3H2V2H3V1H5Z" fill="#000"/><path d="M5,1H8V2H10V3H11V5H12V8H11V10H10V11H8V12H5V11H3V10H2V8H1V5H2V3H3V2H5Z" fill="#ff0"/></g>
<g transform="translate(631,327)"><path d="M5,0H8V1H10V2H11V3H12V5H13V8H12V10H11V11H10V12H8V13H5V12H3V11H2V10H1V8H0V5H1V3H2V2H3V1H5Z" fill="#000"/><path d="M5,1H8V2H10V3H11V5H12V8H11V10H10V11H8V12H5V11H3V10H2V8H1V5H2V3H3V2H5Z" fill="#ff0"/></g>
<g transform="translate(634,312)"><path d="M5,0H8V1H10V2H11V3H12V5H13V8H12V10H11V11H10V12H8V13H5V12H3V11H2V10H1V8H0V5H1V3H2V2H3V1H5Z" fill="#000"/><path d="M5,1H8V2H10V3H11V5H12V8H11V10H10V11H8V12H5V11H3V10H2V8H1V5H2V3H3V2H5Z" fill="#ff0"/></g>
<g transform="translate(637,312)"><path d="M5,0H8V1H10V2H11V3H12V5H13V8H12V10H11V11H10V12H8V13H5V12H3V11H2V10H1V8H0V5H1V3H2V2H3V1H5Z" fill="#000"/><path d="M5,1H8V2H10V3H11V5H12V8H11V10H10V11H8V12H5V11H3V10H2V8H1V5H2V3H3V2H5Z" fill="#ff0"/></g>
<g transform="translate(641,374)"><path d="M5,0H8V1H10V2H11V3H12V5H13V8H12V10H11V11H10V12H8V13H5V12H3V11H2V10H1V8H0V5H1V3H2V2H3V1H5Z" fill="#000"/><path d="M5,1H8V2H10V3H11V5H12V8H11V10H10V11H8V12H5V11H3V10H2V8H1V5H2V3H3V2H5Z" fill="#ff0"/></g>
<g transform="translate(644,343)"><path d="M5,0H8V1H10V2H11V3H12V5H13V8H12V10H11V11H10V12H8V13H5V12H3V11H2V10H1V8H0V5H1V3H2V2H3V1H5Z" fill="#000"/><path d="M5,1H8V2H10V3H11V5H12V8H11V10H10V11H8V12H5V11H3V10H2V8H1V5H2V3H3V2H5Z" fill="#ff0"/></g>
<g transform="translate(647,327)"><path d="M5,0H8V1H10V2H11V3H12V5H13V8H12V10H11V11H10V12H8V13H5V12H3V11H2V10H1V8H0V5H1V3H2V2H3V1H5Z" fill="#000"/><path d="M5,1H8V2H10V3H11V5H12V8H11V10H10V11H8V12H5V11H3V10H2V8H1V5H2V3H3V2H5Z" fill="#ff0"/></g>
<g transform="translate(650,327)"><path d="M5,0H8V1H10V2H11V3H12V5H13V8H12V10H11V11H10V12H8V13H5V12H3V11H2V10H1V8H0V5H1V3H2V2H3V1H5Z" fill="#000"/><path d="M5,1H8V2H10V3H11V5H12V8H11V10H10V11H8V12H5V11H3V10H2V8H1V5H2V3H3V2H5Z" fill="#ff0"/></g>
<g transform="translate(653,327)"><path d="M5,0H8V1H10V2H11V3H12V5H13V8H12V10H11V11H10V12H8V13H5V12H3V11H2V10H1V8H0V5H1V3H2V2H3V1H5Z" fill="#000"/><path d="M5,1H8V2H10V3H11V5H12V8H11V10H10V11H8V12H5V11H3V10H2V8H1V5H2V3H3V2H5Z" fill="#ff0"/></g>
<g transform="translate(656,327)"><path d="M5,0H8V1H10V2H11V3H12V5H13V8H12V10H11V11H10V12H8V13H5V12H3V11H2V10H1V8H0V5H1V3H2V2H3V1H5Z" fill="#000"/><path d="M5,1H8V2H10V3H11V5H12V8H11V10H10V11H8V12H5V11H3V10H2V8H1V5H2V3H3V2H5Z" fill="#ff0"/></g>
<g transform="translate(659,343)"><path d="M5,0H8V1H10V2H11V3H12V5H13V8H12V10H11V11H10V12H8V13H5V12H3V11H2V10H1V8H0V5H1V3H2V2H3V1H5Z" fill="#000"/><path d="M5,1H8V2H10V3H11V5H12V8H11V10H10V11H8V12H5V11H3V10H2V8H1V5H2V3H3V2H5Z" fill="#ff0"/></g>
<g transform="translate(663,343)"><path d="M5,0H8V1H10V2H11V3H12V5H13V8H12V10H11V11H10V12H8V13H5V12H3V11H2V10H1V8H0V5H1V3H2V2H3V1H5Z" fill="#000"/><path d="M5,1H8V2H10V3H11V5H12V8H11V10H10V11H8V12H5V11H3V10H2V8H1V5H2V3H3V2H5Z" fill="#ff0"/></g>
<g transform="translate(666,343)"><path d="M5,0H8V1H10V2H11V3H12V5H13V8H12V10H11V11H10V12H8V13H5V12H3V11H2V10H1V8H0V5H1V3H2V2H3V1H5Z" fill="#000"/><path d="M5,1H8V2H10V3H11V5H12V8H11V10H10V11H8V12H5V11H3V10H2V8H1V5H2V3H3V2H5Z" fill="#ff0"/></g>
<g transform="translate(669,343)"><path d="M5,0H8V1H10V2H11V3H12V5H13V8H12V10H11V11H10V12H8V13H5V12H3V11H2V10H1V8H0V5H1V3H2V2H3V1H5Z" fill="#000"/><path d="M5,1H8V2H10V3H11V5H12V8H11V10H10V11H8V12H5V11H3V10H2V8H1V5H2V3H3V2H5Z" fill="#ff0"/></g>
<g transform="translate(672,374)"><path d="M5,0H8V1H10V2H11V3H12V5H13V8H12V10H11V11H10V12H8V13H5V12H3V11H2V10H1V8H0V5H1V3H2V2H3V1H5Z" fill="#000"/><path d="M5,1H8V2H10V3H11V5H12V8H11V10H10V11H8V12H5V11H3V10H2V8H1V5H2V3H3V2H5Z" fill="#ff0"/></g>
<g transform="translate(675,343)"><path d="M5,0H8V1H10V2H11V3H12V5H13V8H12V10H11V11H10V12H8V13H5V12H3V11H2V10H1V8H0V5H1V3H2V2H3V1H5Z" fill="#000"/><path d="M5,1H8V2H10V3H11V5H12V8H11V10H10V11H8V12H5V11H3V10H2V8H1V5H2V3H3V2H5Z" fill="#ff0"/></g>
<g transform="translate(678,327)"><path d="M5,0H8V1H10V2H11V3H12V5H13V8H12V10H11V11H10V12H8V13H5V12H3V11H2V10H1V8H0V5H1V3H2V2H3V1H5Z" fill="#000"/><path d="M5,1H8V2H10V3H11V5H12V8H11V10H10V11H8V12H5V11H3V10H2V8H1V5H2V3H3V2H5Z" fill="#ff0"/></g>
<g transform="translate(682,374)"><path d="M5,0H8V1H10V2H11V3H12V5H13V8H12V10H11V11H10V12H8V13H5V12H3V11H2V10H1V8H0V5H1V3H2V2H3V1H5Z" fill="#000"/><path d="M5,1H8V2H10V3H11V5H12V8H11V10H10V11H8V12H5V11H3V10H2V8H1V5H2V3H3V2H5Z" fill="#ff0"/></g>
<g transform="translate(685,343)"><path d="M5,0H8V1H10V2H11V3H12V5H13V8H12V10H11V11H10V12H8V13H5V12H3V11H2V10H1V8H0V5H1V3H2V2H3V1H5Z" fill="#000"/><path d="M5,1H8V2H10V3H11V5H12V8H11V10H10V11H8V12H5V11H3V10H2V8H1V5H2V3H3V2H5Z" fill="#ff0"/></g>
<g transform="translate(688,343)"><path d="M5,0H8V1H10V2H11V3H12V5H13V8H12V10H11V11H10V12H8V13H5V12H3V11H2V10H1V8H0V5H1V3H2V2H3V1H5Z" fill="#000"/><path d="M5,1H8V2H10V3H11V5H12V8H11V10H10V11H8V12H5V11H3V10H2V8H1V5H2V3H3V2H5Z" fill="#ff0"/></g>
<g transform="translate(691,343)"><path d="M5,0H8V1H10V2H11V3H12V5H13V8H12V10H11V11H10V12H8V13H5V12H3V11H2V10H1V8H0V5H1V3H2V2H3V1H5Z" fill="#000"/><path d="M5,1H8V2H10V3H11V5H12V8H11V10H10V11H8V12H5V11H3V10H2V8H1V5H2V3H3V2H5Z" fill="#ff0"/></g>
<g transform="translate(694,359)"><path d="M5,0H8V1H10V2H11V3H12V5H13V8H12V10H11V11H10V12H8V13H5V12H3V11H2V10H1V8H0V5H1V3H2V2H3V1H5Z" fill="#000"/><path d="M5,1H8V2H10V3H11V5H12V8H11V10H10V11H8V12H5V11H3V10H2V8H1V5H2V3H3V2H5Z" fill="#ff0"/></g>
<g transform="translate(697,343)"><path d="M5,0H8V1H10V2H11V3H12V5H13V8H12V10H11V11H10V12H8V13H5V12H3V11H2V10H1V8H0V5H1V3H2V2H3V1H5Z" fill="#000"/><path d="M5,1H8V2H10V3H11V5H12V8H11V10H10V11H8V12H5V11H3V10H2V8H1V5H2V3H3V2H5Z" fill="#ff0"/></g>
<g transform="translate(700,343)"><path d="M5,0H8V1H10V2H11V3H12V5H13V8H12V10H11V11H10V12H8V13H5V12H3V11H2V10H1V8H0V5H1V3H2V2H3V1H5Z" fill="#000"/><path d="M5,1H8V2H10V3H11V5H12V8H11V10H10V11H8V12H5V11H3V10H2V8H1V5H2V3H3V2H5Z" fill="#ff0"/></g>
<g transform="translate(704,343)"><path d="M5,0H8V1H10V2H11V3H12V5H13V8H12V10H11V11H10V12H8V13H5V12H3V11H2V10H1V8H0V5H1V3H2V2H3V1H5Z" fill="#000"/><path d="M5,1H8V2H10V3H11V5H12V8H11V10H10V11H8V12H5V11H3V10H2V8H1V5H2V3H3V2H5Z" fill="#ff0"/></g>
<g transform="translate(707,343)"><path d="M5,0H8V1H10V2H11V3H12V5H13V8H12V10H11V11H10V12H8V13H5V12H3V11H2V10H1V8H0V5H1V3H2V2H3V1H5Z" fill="#000"/><path d="M5,1H8V2H10V3H11V5H12V8H11V10H10V11H8V12H5V11H3V10H2V8H1V5H2V3H3V2H5Z" fill="#ff0"/></g>
<g transform="translate(710,359)"><path d="M5,0H8V1H10V2H11V3H12V5H13V8H12V10H11V11H10V12H8V13H5V12H3V11H2V10H1V8H0V5H1V3H2V2H3V1H5Z" fill="#000"/><path d="M5,1H8V2H10V3H11V5H12V8H11V10H10V11H8V12H5V11H3V10H2V8H1V5H2V3H3V2H5Z" fill="#ff0"/></g>
<g transform="translate(713,343)"><path d="M5,0H8V1H10V2H11V3H12V5H13V8H12V10H11V11H10V12H8V13H5V12H3V11H2V10H1V8H0V5H1V3H2V2H3V1H5Z" fill="#000"/><path d="M5,1H8V2H10V3H11V5H12V8H11V10H10V11H8V12H5V11H3V10H2V8H1V5H2V3H3V2H5Z" fill="#ff0"/></g>
<g transform="translate(716,327)"><path d="M5,0H8V1H10V2H11V3H12V5H13V8H12V10H11V11H10V12H8V13H5V12H3V11H2V10H1V8H0V5H1V3H2V2H3V1H5Z" fill="#000"/><path d="M5,1H8V2H10V3H11V5H12V8H11V10H10V11H8V12H5V11H3V10H2V8H1V5H2V3H3V2H5Z" fill="#ff0"/></g>
<g transform="translate(719,343)"><path d="M5,0H8V1H10V2H11V3H12V5H13V8H12V10H11V11H10V12H8V13H5V12H3V11H2V10H1V8H0V5H1V3H2V2H3V1H5Z" fill="#000"/><path d="M5,1H8V2H10V3H11V5H12V8H11V10H10V11H8V12H5V11H3V10H2V8H1V5H2V3H3V2H5Z" fill="#ff0"/></g>
<g transform="translate(723,359)"><path d="M5,0H8V1H10V2H11V3H12V5H13V8H12V10H11V11H10V12H8V13H5V12H3V11H2V10H1V8H0V5H1V3H2V2H3V1H5Z" fill="#000"/><path d="M5,1H8V2H10V3H11V5H12V8H11V10H10V11H8V12H5V11H3V10H2V8H1V5H2V3H3V2H5Z" fill="#ff0"/></g>
<g transform="translate(726,343)"><path d="M5,0H8V1H10V2H11V3H12V5H13V8H12V10H11V11H10V12H8V13H5V12H3V11H2V10H1V8H0V5H1V3H2V2H3V1H5Z" fill="#000"/><path d="M5,1H8V2H10V3H11V5H12V8H11V10H10V11H8V12H5V11H3V10H2V8H1V5H2V3H3V2H5Z" fill="#ff0"/></g>
<g transform="translate(729,343)"><path d="M5,0H8V1H10V2H11V3H12V5H13V8H12V10H11V11H10V12H8V13H5V12H3V11H2V10H1V8H0V5H1V3H2V2H3V1H5Z" fill="#000"/><path d="M5,1H8V2H10V3H11V5H12V8H11V10H10V11H8V12H5V11H3V10H2V8H1V5H2V3H3V2H5Z" fill="#ff0"/></g>
<g transform="translate(732,343)"><path d="M5,0H8V1H10V2H11V3H12V5H13V8H12V10H11V11H10V12H8V13H5V12H3V11H2V10H1V8H0V5H1V3H2V2H3V1H5Z" fill="#000"/><path d="M5,1H8V2H10V3H11V5H12V8H11V10H10V11H8V12H5V11H3V10H2V8H1V5H2V3H3V2H5Z" fill="#ff0"/></g>
<g transform="translate(735,343)"><path d="M5,0H8V1H10V2H11V3H12V5H13V8H12V10H11V11H10V12H8V13H5V12H3V11H2V10H1V8H0V5H1V3H2V2H3V1H5Z" fill="#000"/><path d="M5,1H8V2H10V3H11V5H12V8H11V10H10V11H8V12H5V11H3V10H2V8H1V5H2V3H3V2H5Z" fill="#ff0"/></g>
<g transform="translate(738,359)"><path d="M5,0H8V1H10V2H11V3H12V5H13V8H12V10H11V11H10V12H8V13H5V12H3V11H2V10H1V8H0V5H1V3H2V2H3V1H5Z" fill="#000"/><path d="M5,1H8V2H10V3H11V5H12V8H11V10H10V11H8V12H5V11H3V10H2V8H1V5H2V3H3V2H5Z" fill="#ff0"/></g>
<g transform="translate(742,343)"><path d="M5,0H8V1H10V2H11V3H12V5H13V8H12V10H11V11H10V12H8V13H5V12H3V11H2V10H1V8H0V5H1V3H2V2H3V1H5Z" fill="#000"/><path d="M5,1H8V2H10V3H11V5H12V8H11V10H10V11H8V12H5V11H3V10H2V8H1V5H2V3H3V2H5Z" fill="#ff0"/></g>
<g transform="translate(745,327)"><path d="M5,0H8V1H10V2H11V3H12V5H13V8H12V10H11V11H10V12H8V13H5V12H3V11H2V10H1V8H0V5H1V3H2V2H3V1H5Z" fill="#000"/><path d="M5,1H8V2H10V3H11V5H12V8H11V10H10V11H8V12H5V11H3V10H2V8H1V5H2V3H3V2H5Z" fill="#ff0"/></g>
<g transform="translate(748,327)"><path d="M5,0H8V1H10V2H11V3H12V5H13V8H12V10H11V11H10V12H8V13H5V12H3V11H2V10H1V8H0V5H1V3H2V2H3V1H5Z" fill="#000"/><path d="M5,1H8V2H10V3H11V5H12V8H11V10H10V11H8V12H5V11H3V10H2V8H1V5H2V3H3V2H5Z" fill="#ff0"/></g>
<g transform="translate(751,343)"><path d="M5,0H8V1H10V2H11V3H12V5H13V8H12V10H11V11H10V12H8V13H5V12H3V11H2V10H1V8H0V5H1V3H2V2H3V1H5Z" fill="#000"/><path d="M5,1H8V2H10V3H11V5H12V8H11V10H10V11H8V12H5V11H3V10H2V8H1V5H2V3H3V2H5Z" fill="#ff0"/></g>
<g transform="translate(754,343)"><path d="M5,0H8V1H10V2H11V3H12V5H13V8H12V10H11V11H10V12H8V13H5V12H3V11H2V10H1V8H0V5H1V3H2V2H3V1H5Z" fill="#000"/><path d="M5,1H8V2H10V3H11V5H12V8H11V10H10V11H8V12H5V11H3V10H2V8H1V5H2V3H3V2H5Z" fill="#ff0"/></g>
<g transform="translate(757,343)"><path d="M5,0H8V1H10V2H11V3H12V5H13V8H12V10H11V11H10V12H8V13H5V12H3V11H2V10H1V8H0V5H1V3H2V2H3V1H5Z" fill="#000"/><path d="M5,1H8V2H10V3H11V5H12V8H11V10H10V11H8V12H5V11H3V10H2V8H1V5H2V3H3V2H5Z" fill="#ff0"/></g>
<g transform="translate(760,343)"><path d="M5,0H8V1H10V2H11V3H12V5H13V8H12V10H11V11H10V12H8V13H5V12H3V11H2V10H1V8H0V5H1V3H2V2H3V1H5Z" fill="#000"/><path d="M5,1H8V2H10V3H11V5H12V8H11V10H10V11H8V12H5V11H3V10H2V8H1V5H2V3H3V2H5Z" fill="#ff0"/></g>
<g transform="translate(764,327)"><path d="M5,0H8V1H10V2H11V3H12V5H13V8H12V10H11V11H10V12H8V13H5V12H3V11H2V10H1V8H0V5H1V3H2V2H3V1H5Z" fill="#000"/><path d="M5,1H8V2H10V3H11V5H12V8H11V10H10V11H8V12H5V11H3V10H2V8H1V5H2V3H3V2H5Z" fill="#ff0"/></g>
<g transform="translate(767,327)"><path d="M5,0H8V1H10V2H11V3H12V5H13V8H12V10H11V11H10V12H8V13H5V12H3V11H2V10H1V8H0V5H1V3H2V2H3V1H5Z" fill="#000"/><path d="M5,1H8V2H10V3H11V5H12V8H11V10H10V11H8V12H5V11H3V10H2V8H1V5H2V3H3V2H5Z" fill="#ff0"/></g>
<g transform="translate(770,343)"><path d="M5,0H8V1H10V2H11V3H12V5H13V8H12V10H11V11H10V12H8V13H5V12H3V11H2V10H1V8H0V5H1V3H2V2H3V1H5Z" fill="#000"/><path d="M5,1H8V2H10V3H11V5H12V8H11V10H10V11H8V12H5V11H3V10H2V8H1V5H2V3H3V2H5Z" fill="#ff0"/></g>
<g transform="translate(773,327)"><path d="M5,0H8V1H10V2H11V3H12V5H13V8H12V10H11V11H10V12H8V13H5V12H3V11H2V10H1V8H0V5H1V3H2V2H3V1H5Z" fill="#000"/><path d="M5,1H8V2H10V3H11V5H12V8H11V10H10V11H8V12H5V11H3V10H2V8H1V5H2V3H3V2H5Z" fill="#ff0"/></g>
<g transform="translate(776,327)"><path d="M5,0H8V1H10V2H11V3H12V5H13V8H12V10H11V11H10V12H8V13H5V12H3V11H2V10H1V8H0V5H1V3H2V2H3V1H5Z" fill="#000"/><path d="M5,1H8V2H10V3H11V5H12V8H11V10H10V11H8V12H5V11H3V10H2V8H1V5H2V3H3V2H5Z" fill="#ff0"/></g>
<g transform="translate(779,296)"><path d="M5,0H8V1H10V2H11V3H12V5H13V8H12V10H11V11H10V12H8V13H5V12H3V11H2V10H1V8H0V5H1V3H2V2H3V1H5Z" fill="#000"/><path d="M5,1H8V2H10V3H11V5H12V8H11V10H10V11H8V12H5V11H3V10H2V8H1V5H2V3H3V2H5Z" fill="#ff0"/></g>
<g transform="translate(783,280)"><path d="M5,0H8V1H10V2H11V3H12V5H13V8H12V10H11V11H10V12H8V13H5V12H3V11H2V10H1V8H0V5H1V3H2V2H3V1H5Z" fill="#000"/><path d="M5,1H8V2H10V3H11V5H12V8H11V10H10V11H8V12H5V11H3V10H2V8H1V5H2V3H3V2H5Z" fill="#ff0"/></g>
<g transform="translate(786,296)"><path d="M5,0H8V1H10V2H11V3H12V5H13V8H12V10H11V11H10V12H8V13H5V12H3V11H2V10H1V8H0V5H1V3H2V2H3V1H5Z" fill="#000"/><path d="M5,1H8V2H10V3H11V5H12V8H11V10H10V11H8V12H5V11H3V10H2V8H1V5H2V3H3V2H5Z" fill="#ff0"/></g>
<g transform="translate(789,312)"><path d="M5,0H8V1H10V2H11V3H12V5H13V8H12V10H11V11H10V12H8V13H5V12H3V11H2V10H1V8H0V5H1V3H2V2H3V1H5Z" fill="#000"/><path d="M5,1H8V2H10V3H11V5H12V8H11V10H10V11H8V12H5V11H3V10H2V8H1V5H2V3H3V2H5Z" fill="#ff0"/></g>
</g>
<g>
<text transform="translate(556.5,53) scale(0.994,1)" font-size="22" text-anchor="middle" font-weight="bold" fill="#000">12046: Ice Detect Status</text>
<text transform="translate(555.9,278) scale(0.998,1)" font-size="22" text-anchor="middle" font-weight="bold" fill="#000">Shallowest Pressure</text>
<text transform="translate(555.4,503) scale(0.989,1)" font-size="22" text-anchor="middle" font-weight="bold" fill="#000">Temperature at Shallowest Pressure</text>
<text transform="translate(161.3,244) rotate(0.03) scale(1,1.029)" font-size="20" text-anchor="middle" font-weight="normal" fill="#262626">0</text>
<text transform="translate(319.1,244) rotate(0.03) scale(1.022,1.029)" font-size="20" text-anchor="middle" font-weight="normal" fill="#262626">50</text>
<text transform="translate(476.9,244) rotate(0.03) scale(0.997,1.029)" font-size="20" text-anchor="middle" font-weight="normal" fill="#262626">100</text>
<text transform="translate(634.7,244) rotate(0.03) scale(0.997,1.029)" font-size="20" text-anchor="middle" font-weight="normal" fill="#262626">150</text>
<text transform="translate(792.5,244) rotate(0.03) scale(0.997,1.029)" font-size="20" text-anchor="middle" font-weight="normal" fill="#262626">200</text>
<text transform="translate(950.3,244) rotate(0.03) scale(1.007,1.029)" font-size="20" text-anchor="middle" font-weight="normal" fill="#262626">250</text>
<text transform="translate(161.3,469) rotate(0.03) scale(1,1.029)" font-size="20" text-anchor="middle" font-weight="normal" fill="#262626">0</text>
<text transform="translate(319.1,469) rotate(0.03) scale(1.022,1.029)" font-size="20" text-anchor="middle" font-weight="normal" fill="#262626">50</text>
<text transform="translate(476.9,469) rotate(0.03) scale(0.997,1.029)" font-size="20" text-anchor="middle" font-weight="normal" fill="#262626">100</text>
<text transform="translate(634.7,469) rotate(0.03) scale(0.997,1.029)" font-size="20" text-anchor="middle" font-weight="normal" fill="#262626">150</text>
<text transform="translate(792.5,469) rotate(0.03) scale(0.997,1.029)" font-size="20" text-anchor="middle" font-weight="normal" fill="#262626">200</text>
<text transform="translate(950.3,469) rotate(0.03) scale(1.007,1.029)" font-size="20" text-anchor="middle" font-weight="normal" fill="#262626">250</text>
<text transform="translate(161.3,693) rotate(0.03) scale(1.006,1.029)" font-size="20" text-anchor="middle" font-weight="normal" fill="#262626">0</text>
<text transform="translate(240.2,693) rotate(0.03) scale(1.006,1.029)" font-size="20" text-anchor="middle" font-weight="normal" fill="#262626">0.1</text>
<text transform="translate(319.1,693) rotate(0.03) scale(1.006,1.029)" font-size="20" text-anchor="middle" font-weight="normal" fill="#262626">0.2</text>
<text transform="translate(398.0,693) rotate(0.03) scale(1.006,1.029)" font-size="20" text-anchor="middle" font-weight="normal" fill="#262626">0.3</text>
<text transform="translate(476.9,693) rotate(0.03) scale(1.006,1.029)" font-size="20" text-anchor="middle" font-weight="normal" fill="#262626">0.4</text>
<text transform="translate(555.8,693) rotate(0.03) scale(1.006,1.029)" font-size="20" text-anchor="middle" font-weight="normal" fill="#262626">0.5</text>
<text transform="translate(634.7,693) rotate(0.03) scale(1.006,1.029)" font-size="20" text-anchor="middle" font-weight="normal" fill="#262626">0.6</text>
<text transform="translate(713.6,693) rotate(0.03) scale(1.006,1.029)" font-size="20" text-anchor="middle" font-weight="normal" fill="#262626">0.7</text>
<text transform="translate(792.5,693) rotate(0.03) scale(1.006,1.029)" font-size="20" text-anchor="middle" font-weight="normal" fill="#262626">0.8</text>
<text transform="translate(871.4,693) rotate(0.03) scale(1.006,1.029)" font-size="20" text-anchor="middle" font-weight="normal" fill="#262626">0.9</text>
<text transform="translate(950.3,693) rotate(0.03) scale(1.006,1.029)" font-size="20" text-anchor="middle" font-weight="normal" fill="#262626">1</text>
<text transform="translate(153.8,100) rotate(0.03) scale(0.993,1.029)" font-size="20" text-anchor="end" font-weight="normal" fill="#262626">Ice Breakup 3</text>
<text transform="translate(153.8,131) rotate(0.03) scale(0.991,1.029)" font-size="20" text-anchor="end" font-weight="normal" fill="#262626">Ice Mixed Layer 2</text>
<text transform="translate(153.8,163) rotate(0.03) scale(0.993,1.029)" font-size="20" text-anchor="end" font-weight="normal" fill="#262626">Ice Not Found 1</text>
<text transform="translate(153.8,194) rotate(0.03) scale(0.988,1.029)" font-size="20" text-anchor="end" font-weight="normal" fill="#262626">Ice Check Off 0</text>
<text transform="translate(153.8,294) rotate(0.03) scale(1,1.029)" font-size="20" text-anchor="end" font-weight="normal" fill="#262626">-0.5</text>
<text transform="translate(153.8,372) rotate(0.03) scale(1,1.029)" font-size="20" text-anchor="end" font-weight="normal" fill="#262626">0</text>
<text transform="translate(153.8,450) rotate(0.03) scale(1,1.029)" font-size="20" text-anchor="end" font-weight="normal" fill="#262626">0.5</text>
<text transform="translate(153.8,519) rotate(0.03) scale(1,1.029)" font-size="20" text-anchor="end" font-weight="normal" fill="#262626">4</text>
<text transform="translate(153.8,567) rotate(0.03) scale(1,1.029)" font-size="20" text-anchor="end" font-weight="normal" fill="#262626">2</text>
<text transform="translate(153.8,614) rotate(0.03) scale(1,1.029)" font-size="20" text-anchor="end" font-weight="normal" fill="#262626">0</text>
<text transform="translate(153.8,662) rotate(0.03) scale(1,1.029)" font-size="20" text-anchor="end" font-weight="normal" fill="#262626">-2</text>
<text transform="translate(104,365) rotate(-89.97) scale(1,1.02)" font-size="22" text-anchor="middle" font-weight="normal" fill="#262626">dbar</text>
<text transform="translate(123,590) rotate(-89.97) scale(1,1.02)" font-size="22" text-anchor="middle" font-weight="normal" fill="#262626">°C</text>
<text transform="translate(555.75,720.7) rotate(0.03) scale(0.986,1.02)" font-size="22" text-anchor="middle" font-weight="normal" fill="#262626">Cycle Number</text>
<text transform="translate(105,741)" font-size="16.67" text-anchor="start" font-weight="normal" fill="#000">Argo WHOI 11-Jan-2026</text>
</g>
</svg>
</body></html>
